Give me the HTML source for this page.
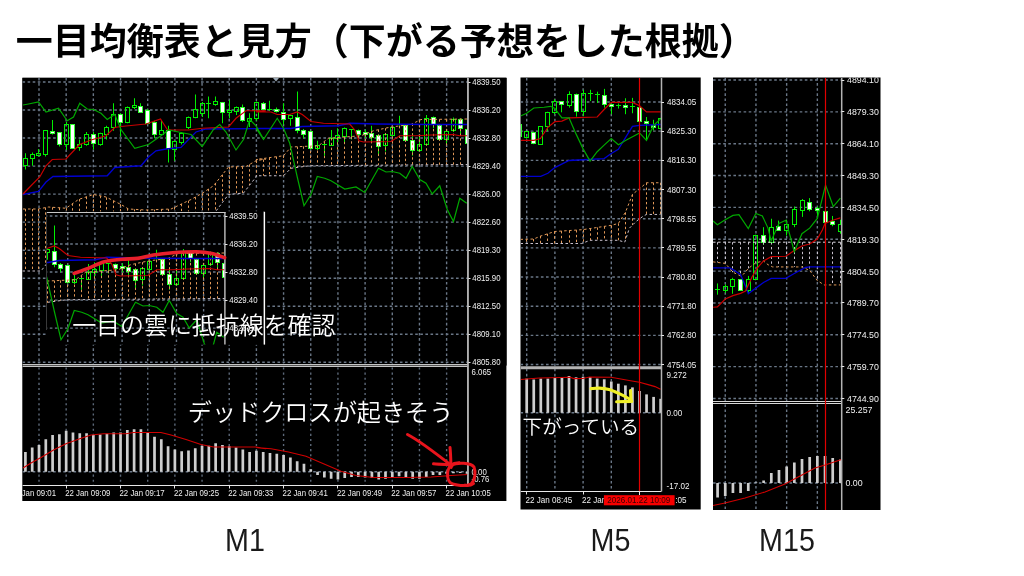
<!DOCTYPE html><html lang="ja"><head><meta charset="utf-8"><title>一目均衡表と見方</title>
<style>html,body{margin:0;padding:0;background:#fff}body{width:1024px;height:576px;overflow:hidden;position:relative}svg{position:absolute;left:0;top:0;display:block}.jp{font-family:"Liberation Sans","Noto Sans CJK JP",sans-serif}</style></head><body>
<svg width="1024" height="576" viewBox="0 0 1024 576">
<rect width="1024" height="576" fill="#fff"/>
<text x="15.7" y="55" fill="#000" font-family="Liberation Sans, Noto Sans CJK JP, sans-serif" font-weight="700" font-size="37">一目均衡表と見方（下がる予想をした根拠）</text>
<defs><clipPath id="cM1"><rect x="22.3" y="77.8" width="484.1" height="423.2"/></clipPath><clipPath id="cIn"><rect x="46.5" y="211.5" width="218" height="133"/></clipPath><clipPath id="cM5"><rect x="520.5" y="77.5" width="180.2" height="431.9"/></clipPath><clipPath id="cM5c"><rect x="520.5" y="77.5" width="140.8" height="432"/></clipPath><clipPath id="cM15"><rect x="713" y="77.5" width="167.5" height="432.5"/></clipPath><clipPath id="cM15c"><rect x="713" y="77.5" width="128.5" height="432.5"/></clipPath></defs>
<g clip-path="url(#cM1)"><g>
<rect x="12" y="67" width="505" height="445" fill="#000"/>
<rect x="22.5" y="77.5" width="484.5" height="288" fill="#000"/>
<line x1="39" y1="78" x2="39" y2="365" stroke="#6a7787" stroke-width="1.4" stroke-dasharray="2.6 2.5"/>
<line x1="66.17" y1="78" x2="66.17" y2="365" stroke="#6a7787" stroke-width="1.4" stroke-dasharray="2.6 2.5"/>
<line x1="93.35" y1="78" x2="93.35" y2="365" stroke="#6a7787" stroke-width="1.4" stroke-dasharray="2.6 2.5"/>
<line x1="120.53" y1="78" x2="120.53" y2="365" stroke="#6a7787" stroke-width="1.4" stroke-dasharray="2.6 2.5"/>
<line x1="147.7" y1="78" x2="147.7" y2="365" stroke="#6a7787" stroke-width="1.4" stroke-dasharray="2.6 2.5"/>
<line x1="174.88" y1="78" x2="174.88" y2="365" stroke="#6a7787" stroke-width="1.4" stroke-dasharray="2.6 2.5"/>
<line x1="202.05" y1="78" x2="202.05" y2="365" stroke="#6a7787" stroke-width="1.4" stroke-dasharray="2.6 2.5"/>
<line x1="229.22" y1="78" x2="229.22" y2="365" stroke="#6a7787" stroke-width="1.4" stroke-dasharray="2.6 2.5"/>
<line x1="256.4" y1="78" x2="256.4" y2="365" stroke="#6a7787" stroke-width="1.4" stroke-dasharray="2.6 2.5"/>
<line x1="283.58" y1="78" x2="283.58" y2="365" stroke="#6a7787" stroke-width="1.4" stroke-dasharray="2.6 2.5"/>
<line x1="310.75" y1="78" x2="310.75" y2="365" stroke="#6a7787" stroke-width="1.4" stroke-dasharray="2.6 2.5"/>
<line x1="337.93" y1="78" x2="337.93" y2="365" stroke="#6a7787" stroke-width="1.4" stroke-dasharray="2.6 2.5"/>
<line x1="365.1" y1="78" x2="365.1" y2="365" stroke="#6a7787" stroke-width="1.4" stroke-dasharray="2.6 2.5"/>
<line x1="392.28" y1="78" x2="392.28" y2="365" stroke="#6a7787" stroke-width="1.4" stroke-dasharray="2.6 2.5"/>
<line x1="419.45" y1="78" x2="419.45" y2="365" stroke="#6a7787" stroke-width="1.4" stroke-dasharray="2.6 2.5"/>
<line x1="446.62" y1="78" x2="446.62" y2="365" stroke="#6a7787" stroke-width="1.4" stroke-dasharray="2.6 2.5"/>
<line x1="22.5" y1="82" x2="468" y2="82" stroke="#6a7787" stroke-width="1.4" stroke-dasharray="2.6 2.5"/>
<line x1="22.5" y1="110.03" x2="468" y2="110.03" stroke="#6a7787" stroke-width="1.4" stroke-dasharray="2.6 2.5"/>
<line x1="22.5" y1="138.06" x2="468" y2="138.06" stroke="#6a7787" stroke-width="1.4" stroke-dasharray="2.6 2.5"/>
<line x1="22.5" y1="166.09" x2="468" y2="166.09" stroke="#6a7787" stroke-width="1.4" stroke-dasharray="2.6 2.5"/>
<line x1="22.5" y1="194.12" x2="468" y2="194.12" stroke="#6a7787" stroke-width="1.4" stroke-dasharray="2.6 2.5"/>
<line x1="22.5" y1="222.15" x2="468" y2="222.15" stroke="#6a7787" stroke-width="1.4" stroke-dasharray="2.6 2.5"/>
<line x1="22.5" y1="250.18" x2="468" y2="250.18" stroke="#6a7787" stroke-width="1.4" stroke-dasharray="2.6 2.5"/>
<line x1="22.5" y1="278.21" x2="468" y2="278.21" stroke="#6a7787" stroke-width="1.4" stroke-dasharray="2.6 2.5"/>
<line x1="22.5" y1="306.24" x2="468" y2="306.24" stroke="#6a7787" stroke-width="1.4" stroke-dasharray="2.6 2.5"/>
<line x1="22.5" y1="334.27" x2="468" y2="334.27" stroke="#6a7787" stroke-width="1.4" stroke-dasharray="2.6 2.5"/>
<line x1="22.5" y1="362.3" x2="468" y2="362.3" stroke="#6a7787" stroke-width="1.4" stroke-dasharray="2.6 2.5"/>
<line x1="25.5" y1="153.25" x2="25.5" y2="158.5" stroke="#00f000" stroke-width="1"/>
<line x1="25.5" y1="165.5" x2="25.5" y2="169.5" stroke="#00f000" stroke-width="1"/>
<rect x="23.5" y="158.5" width="4" height="7" fill="none" stroke="#00f000" stroke-width="1"/>
<line x1="32.5" y1="152.5" x2="32.5" y2="154.5" stroke="#00f000" stroke-width="1"/>
<line x1="32.5" y1="158.5" x2="32.5" y2="165.75" stroke="#00f000" stroke-width="1"/>
<rect x="30.5" y="154.5" width="4" height="4" fill="none" stroke="#00f000" stroke-width="1"/>
<line x1="38.5" y1="149" x2="38.5" y2="153.5" stroke="#00f000" stroke-width="1"/>
<line x1="38.5" y1="155.5" x2="38.5" y2="156.5" stroke="#00f000" stroke-width="1"/>
<rect x="36.5" y="153.5" width="4" height="2" fill="none" stroke="#00f000" stroke-width="1"/>
<line x1="45.5" y1="130" x2="45.5" y2="130.5" stroke="#00f000" stroke-width="1"/>
<line x1="45.5" y1="154.5" x2="45.5" y2="156.5" stroke="#00f000" stroke-width="1"/>
<rect x="43.5" y="130.5" width="4" height="24" fill="none" stroke="#00f000" stroke-width="1"/>
<line x1="52.5" y1="120" x2="52.5" y2="134.5" stroke="#00f000" stroke-width="1"/>
<rect x="50.5" y="131.5" width="4" height="2" fill="#ffffff" stroke="#30ff30" stroke-width="1"/>
<line x1="59.5" y1="132" x2="59.5" y2="146.5" stroke="#00f000" stroke-width="1"/>
<rect x="57.5" y="132.5" width="4" height="12" fill="#ffffff" stroke="#30ff30" stroke-width="1"/>
<line x1="66.5" y1="122" x2="66.5" y2="124.5" stroke="#00f000" stroke-width="1"/>
<line x1="66.5" y1="144.5" x2="66.5" y2="150" stroke="#00f000" stroke-width="1"/>
<rect x="64.5" y="124.5" width="4" height="20" fill="none" stroke="#00f000" stroke-width="1"/>
<line x1="72.5" y1="124" x2="72.5" y2="149" stroke="#00f000" stroke-width="1"/>
<rect x="70.5" y="124.5" width="4" height="24" fill="#ffffff" stroke="#30ff30" stroke-width="1"/>
<line x1="79.5" y1="139.5" x2="79.5" y2="144.5" stroke="#00f000" stroke-width="1"/>
<line x1="79.5" y1="147.5" x2="79.5" y2="150.75" stroke="#00f000" stroke-width="1"/>
<rect x="77.5" y="144.5" width="4" height="3" fill="none" stroke="#00f000" stroke-width="1"/>
<line x1="86.5" y1="132" x2="86.5" y2="134.5" stroke="#00f000" stroke-width="1"/>
<line x1="86.5" y1="144.5" x2="86.5" y2="145.75" stroke="#00f000" stroke-width="1"/>
<rect x="84.5" y="134.5" width="4" height="10" fill="none" stroke="#00f000" stroke-width="1"/>
<line x1="93.5" y1="132" x2="93.5" y2="149.5" stroke="#00f000" stroke-width="1"/>
<rect x="91.5" y="134.5" width="4" height="9" fill="#ffffff" stroke="#30ff30" stroke-width="1"/>
<line x1="100.5" y1="132.75" x2="100.5" y2="133.5" stroke="#00f000" stroke-width="1"/>
<line x1="100.5" y1="144.5" x2="100.5" y2="145.75" stroke="#00f000" stroke-width="1"/>
<rect x="98.5" y="133.5" width="4" height="11" fill="none" stroke="#00f000" stroke-width="1"/>
<line x1="106.5" y1="125.75" x2="106.5" y2="127.5" stroke="#00f000" stroke-width="1"/>
<line x1="106.5" y1="134.5" x2="106.5" y2="139.5" stroke="#00f000" stroke-width="1"/>
<rect x="104.5" y="127.5" width="4" height="7" fill="none" stroke="#00f000" stroke-width="1"/>
<line x1="113.5" y1="103.25" x2="113.5" y2="114.5" stroke="#00f000" stroke-width="1"/>
<line x1="113.5" y1="127.5" x2="113.5" y2="130.75" stroke="#00f000" stroke-width="1"/>
<rect x="111.5" y="114.5" width="4" height="13" fill="none" stroke="#00f000" stroke-width="1"/>
<line x1="120.5" y1="113.25" x2="120.5" y2="136.5" stroke="#00f000" stroke-width="1"/>
<rect x="118.5" y="114.5" width="4" height="8" fill="#ffffff" stroke="#30ff30" stroke-width="1"/>
<line x1="127.5" y1="106.5" x2="127.5" y2="107.5" stroke="#00f000" stroke-width="1"/>
<line x1="127.5" y1="122.5" x2="127.5" y2="123.25" stroke="#00f000" stroke-width="1"/>
<rect x="125.5" y="107.5" width="4" height="15" fill="none" stroke="#00f000" stroke-width="1"/>
<line x1="134.5" y1="98.25" x2="134.5" y2="105.5" stroke="#00f000" stroke-width="1"/>
<line x1="134.5" y1="107.5" x2="134.5" y2="109" stroke="#00f000" stroke-width="1"/>
<rect x="132.5" y="105.5" width="4" height="2" fill="none" stroke="#00f000" stroke-width="1"/>
<line x1="140.5" y1="103.25" x2="140.5" y2="112.5" stroke="#00f000" stroke-width="1"/>
<rect x="138.5" y="106.5" width="4" height="6" fill="#ffffff" stroke="#30ff30" stroke-width="1"/>
<line x1="147.5" y1="109" x2="147.5" y2="124.5" stroke="#00f000" stroke-width="1"/>
<rect x="145.5" y="110.5" width="4" height="13" fill="#ffffff" stroke="#30ff30" stroke-width="1"/>
<line x1="154.5" y1="120.75" x2="154.5" y2="138.25" stroke="#00f000" stroke-width="1"/>
<rect x="152.5" y="122.5" width="4" height="12" fill="#ffffff" stroke="#30ff30" stroke-width="1"/>
<line x1="161.5" y1="120.75" x2="161.5" y2="130.5" stroke="#00f000" stroke-width="1"/>
<line x1="161.5" y1="134.5" x2="161.5" y2="135.75" stroke="#00f000" stroke-width="1"/>
<rect x="159.5" y="130.5" width="4" height="4" fill="none" stroke="#00f000" stroke-width="1"/>
<line x1="168.5" y1="125.75" x2="168.5" y2="162.5" stroke="#00f000" stroke-width="1"/>
<rect x="166.5" y="130.5" width="4" height="18" fill="#ffffff" stroke="#30ff30" stroke-width="1"/>
<line x1="174.5" y1="140.75" x2="174.5" y2="141.5" stroke="#00f000" stroke-width="1"/>
<line x1="174.5" y1="149.5" x2="174.5" y2="160.75" stroke="#00f000" stroke-width="1"/>
<rect x="172.5" y="141.5" width="4" height="8" fill="none" stroke="#00f000" stroke-width="1"/>
<line x1="181.5" y1="132" x2="181.5" y2="133.5" stroke="#00f000" stroke-width="1"/>
<line x1="181.5" y1="142.5" x2="181.5" y2="144.5" stroke="#00f000" stroke-width="1"/>
<rect x="179.5" y="133.5" width="4" height="9" fill="none" stroke="#00f000" stroke-width="1"/>
<line x1="188.5" y1="116.5" x2="188.5" y2="117.5" stroke="#00f000" stroke-width="1"/>
<line x1="188.5" y1="127.5" x2="188.5" y2="129" stroke="#00f000" stroke-width="1"/>
<rect x="186.5" y="117.5" width="4" height="10" fill="none" stroke="#00f000" stroke-width="1"/>
<line x1="195.5" y1="94.5" x2="195.5" y2="109.5" stroke="#00f000" stroke-width="1"/>
<line x1="195.5" y1="117.5" x2="195.5" y2="118.25" stroke="#00f000" stroke-width="1"/>
<rect x="193.5" y="109.5" width="4" height="8" fill="none" stroke="#00f000" stroke-width="1"/>
<line x1="202.5" y1="102" x2="202.5" y2="103.5" stroke="#00f000" stroke-width="1"/>
<line x1="202.5" y1="113.5" x2="202.5" y2="117" stroke="#00f000" stroke-width="1"/>
<rect x="200.5" y="103.5" width="4" height="10" fill="none" stroke="#00f000" stroke-width="1"/>
<line x1="208.5" y1="96.5" x2="208.5" y2="118.25" stroke="#00f000" stroke-width="1"/>
<line x1="206" y1="103.5" x2="211" y2="103.5" stroke="#00f000" stroke-width="1"/>
<line x1="215.5" y1="96.5" x2="215.5" y2="101.5" stroke="#00f000" stroke-width="1"/>
<line x1="215.5" y1="104.5" x2="215.5" y2="105.75" stroke="#00f000" stroke-width="1"/>
<rect x="213.5" y="101.5" width="4" height="3" fill="none" stroke="#00f000" stroke-width="1"/>
<line x1="222.5" y1="102" x2="222.5" y2="123.25" stroke="#00f000" stroke-width="1"/>
<rect x="220.5" y="102.5" width="4" height="10" fill="#ffffff" stroke="#30ff30" stroke-width="1"/>
<line x1="229.5" y1="100" x2="229.5" y2="110.5" stroke="#00f000" stroke-width="1"/>
<line x1="229.5" y1="112.5" x2="229.5" y2="118.25" stroke="#00f000" stroke-width="1"/>
<rect x="227.5" y="110.5" width="4" height="2" fill="none" stroke="#00f000" stroke-width="1"/>
<line x1="236.5" y1="106.5" x2="236.5" y2="107.5" stroke="#00f000" stroke-width="1"/>
<line x1="236.5" y1="111.5" x2="236.5" y2="115" stroke="#00f000" stroke-width="1"/>
<rect x="234.5" y="107.5" width="4" height="4" fill="none" stroke="#00f000" stroke-width="1"/>
<line x1="242.5" y1="104.5" x2="242.5" y2="122" stroke="#00f000" stroke-width="1"/>
<rect x="240.5" y="107.5" width="4" height="13" fill="#ffffff" stroke="#30ff30" stroke-width="1"/>
<line x1="249.5" y1="113.25" x2="249.5" y2="118.5" stroke="#00f000" stroke-width="1"/>
<line x1="249.5" y1="121.5" x2="249.5" y2="127" stroke="#00f000" stroke-width="1"/>
<rect x="247.5" y="118.5" width="4" height="3" fill="none" stroke="#00f000" stroke-width="1"/>
<line x1="256.5" y1="101.5" x2="256.5" y2="102.5" stroke="#00f000" stroke-width="1"/>
<line x1="256.5" y1="118.5" x2="256.5" y2="120.75" stroke="#00f000" stroke-width="1"/>
<rect x="254.5" y="102.5" width="4" height="16" fill="none" stroke="#00f000" stroke-width="1"/>
<line x1="263.5" y1="102" x2="263.5" y2="110" stroke="#00f000" stroke-width="1"/>
<rect x="261.5" y="103.5" width="4" height="6" fill="#ffffff" stroke="#30ff30" stroke-width="1"/>
<line x1="269.5" y1="100.75" x2="269.5" y2="110.75" stroke="#00f000" stroke-width="1"/>
<line x1="267" y1="109.5" x2="272" y2="109.5" stroke="#00f000" stroke-width="1"/>
<line x1="276.5" y1="107.5" x2="276.5" y2="112.5" stroke="#00f000" stroke-width="1"/>
<rect x="274.5" y="109.5" width="4" height="2" fill="#ffffff" stroke="#30ff30" stroke-width="1"/>
<line x1="283.5" y1="103.25" x2="283.5" y2="124.5" stroke="#00f000" stroke-width="1"/>
<rect x="281.5" y="112.5" width="4" height="7" fill="#ffffff" stroke="#30ff30" stroke-width="1"/>
<line x1="290.5" y1="114.5" x2="290.5" y2="115.5" stroke="#00f000" stroke-width="1"/>
<line x1="290.5" y1="118.5" x2="290.5" y2="125.75" stroke="#00f000" stroke-width="1"/>
<rect x="288.5" y="115.5" width="4" height="3" fill="none" stroke="#00f000" stroke-width="1"/>
<line x1="297.5" y1="91.5" x2="297.5" y2="133.25" stroke="#00f000" stroke-width="1"/>
<rect x="295.5" y="117.5" width="4" height="13" fill="#ffffff" stroke="#30ff30" stroke-width="1"/>
<line x1="303.5" y1="129" x2="303.5" y2="138.25" stroke="#00f000" stroke-width="1"/>
<rect x="301.5" y="130.5" width="4" height="4" fill="#ffffff" stroke="#30ff30" stroke-width="1"/>
<line x1="310.5" y1="130.75" x2="310.5" y2="149.5" stroke="#00f000" stroke-width="1"/>
<rect x="308.5" y="131.5" width="4" height="17" fill="#ffffff" stroke="#30ff30" stroke-width="1"/>
<line x1="317.5" y1="140.75" x2="317.5" y2="145.5" stroke="#00f000" stroke-width="1"/>
<line x1="317.5" y1="148.5" x2="317.5" y2="150" stroke="#00f000" stroke-width="1"/>
<rect x="315.5" y="145.5" width="4" height="3" fill="none" stroke="#00f000" stroke-width="1"/>
<line x1="324.5" y1="143.25" x2="324.5" y2="155.75" stroke="#00f000" stroke-width="1"/>
<line x1="322" y1="144.5" x2="327" y2="144.5" stroke="#00f000" stroke-width="1"/>
<line x1="331.5" y1="130" x2="331.5" y2="138.5" stroke="#00f000" stroke-width="1"/>
<line x1="331.5" y1="145.5" x2="331.5" y2="145.75" stroke="#00f000" stroke-width="1"/>
<rect x="329.5" y="138.5" width="4" height="7" fill="none" stroke="#00f000" stroke-width="1"/>
<line x1="337.5" y1="128.25" x2="337.5" y2="135.5" stroke="#00f000" stroke-width="1"/>
<line x1="337.5" y1="138.5" x2="337.5" y2="144.5" stroke="#00f000" stroke-width="1"/>
<rect x="335.5" y="135.5" width="4" height="3" fill="none" stroke="#00f000" stroke-width="1"/>
<line x1="344.5" y1="127.5" x2="344.5" y2="128.5" stroke="#00f000" stroke-width="1"/>
<line x1="344.5" y1="136.5" x2="344.5" y2="142.5" stroke="#00f000" stroke-width="1"/>
<rect x="342.5" y="128.5" width="4" height="8" fill="none" stroke="#00f000" stroke-width="1"/>
<line x1="351.5" y1="129" x2="351.5" y2="139.5" stroke="#00f000" stroke-width="1"/>
<line x1="349" y1="129.5" x2="354" y2="129.5" stroke="#00f000" stroke-width="1"/>
<line x1="358.5" y1="129.5" x2="358.5" y2="138.25" stroke="#00f000" stroke-width="1"/>
<rect x="356.5" y="130.5" width="4" height="4" fill="#ffffff" stroke="#30ff30" stroke-width="1"/>
<line x1="365.5" y1="129.5" x2="365.5" y2="138.25" stroke="#00f000" stroke-width="1"/>
<rect x="363.5" y="132.5" width="4" height="2" fill="#ffffff" stroke="#30ff30" stroke-width="1"/>
<line x1="371.5" y1="125.75" x2="371.5" y2="142" stroke="#00f000" stroke-width="1"/>
<rect x="369.5" y="133.5" width="4" height="4" fill="#ffffff" stroke="#30ff30" stroke-width="1"/>
<line x1="378.5" y1="134.5" x2="378.5" y2="154.5" stroke="#00f000" stroke-width="1"/>
<rect x="376.5" y="135.5" width="4" height="11" fill="#ffffff" stroke="#30ff30" stroke-width="1"/>
<line x1="385.5" y1="133.25" x2="385.5" y2="134.5" stroke="#00f000" stroke-width="1"/>
<line x1="385.5" y1="145.5" x2="385.5" y2="151.5" stroke="#00f000" stroke-width="1"/>
<rect x="383.5" y="134.5" width="4" height="11" fill="none" stroke="#00f000" stroke-width="1"/>
<line x1="392.5" y1="127" x2="392.5" y2="127.5" stroke="#00f000" stroke-width="1"/>
<line x1="392.5" y1="135.5" x2="392.5" y2="136.5" stroke="#00f000" stroke-width="1"/>
<rect x="390.5" y="127.5" width="4" height="8" fill="none" stroke="#00f000" stroke-width="1"/>
<line x1="399.5" y1="115.75" x2="399.5" y2="125.75" stroke="#00f000" stroke-width="1"/>
<line x1="397" y1="124.5" x2="402" y2="124.5" stroke="#00f000" stroke-width="1"/>
<line x1="405.5" y1="124.5" x2="405.5" y2="140.75" stroke="#00f000" stroke-width="1"/>
<rect x="403.5" y="125.5" width="4" height="15" fill="#ffffff" stroke="#30ff30" stroke-width="1"/>
<line x1="412.5" y1="133.25" x2="412.5" y2="155.75" stroke="#00f000" stroke-width="1"/>
<rect x="410.5" y="140.5" width="4" height="10" fill="#ffffff" stroke="#30ff30" stroke-width="1"/>
<line x1="419.5" y1="137" x2="419.5" y2="144.5" stroke="#00f000" stroke-width="1"/>
<line x1="419.5" y1="150.5" x2="419.5" y2="152" stroke="#00f000" stroke-width="1"/>
<rect x="417.5" y="144.5" width="4" height="6" fill="none" stroke="#00f000" stroke-width="1"/>
<line x1="426.5" y1="115" x2="426.5" y2="118.5" stroke="#00f000" stroke-width="1"/>
<line x1="426.5" y1="144.5" x2="426.5" y2="145" stroke="#00f000" stroke-width="1"/>
<rect x="424.5" y="118.5" width="4" height="26" fill="none" stroke="#00f000" stroke-width="1"/>
<line x1="433.5" y1="116.5" x2="433.5" y2="128.25" stroke="#00f000" stroke-width="1"/>
<rect x="431.5" y="117.5" width="4" height="7" fill="#ffffff" stroke="#30ff30" stroke-width="1"/>
<line x1="439.5" y1="124.5" x2="439.5" y2="140.75" stroke="#00f000" stroke-width="1"/>
<rect x="437.5" y="125.5" width="4" height="14" fill="#ffffff" stroke="#30ff30" stroke-width="1"/>
<line x1="446.5" y1="130" x2="446.5" y2="131.5" stroke="#00f000" stroke-width="1"/>
<line x1="446.5" y1="139.5" x2="446.5" y2="145" stroke="#00f000" stroke-width="1"/>
<rect x="444.5" y="131.5" width="4" height="8" fill="none" stroke="#00f000" stroke-width="1"/>
<line x1="453.5" y1="117.5" x2="453.5" y2="119.5" stroke="#00f000" stroke-width="1"/>
<line x1="453.5" y1="130.5" x2="453.5" y2="132" stroke="#00f000" stroke-width="1"/>
<rect x="451.5" y="119.5" width="4" height="11" fill="none" stroke="#00f000" stroke-width="1"/>
<line x1="460.5" y1="118.25" x2="460.5" y2="134" stroke="#00f000" stroke-width="1"/>
<rect x="458.5" y="119.5" width="4" height="9" fill="#ffffff" stroke="#30ff30" stroke-width="1"/>
<line x1="467.5" y1="128.25" x2="467.5" y2="144" stroke="#00f000" stroke-width="1"/>
<rect x="465.5" y="129.5" width="4" height="14" fill="#ffffff" stroke="#30ff30" stroke-width="1"/>
<line x1="25.5" y1="209" x2="25.5" y2="271" stroke="#e09858" stroke-width="1" stroke-dasharray="2.4 2.4"/>
<line x1="32.5" y1="209" x2="32.5" y2="271" stroke="#e09858" stroke-width="1" stroke-dasharray="2.4 2.4"/>
<line x1="38.5" y1="208.9" x2="38.5" y2="271" stroke="#e09858" stroke-width="1" stroke-dasharray="2.4 2.4"/>
<line x1="45.5" y1="207.54" x2="45.5" y2="264.9" stroke="#e09858" stroke-width="1" stroke-dasharray="2.4 2.4"/>
<line x1="52.5" y1="207.29" x2="52.5" y2="263.1" stroke="#e09858" stroke-width="1" stroke-dasharray="2.4 2.4"/>
<line x1="59.5" y1="207.78" x2="59.5" y2="262.09" stroke="#e09858" stroke-width="1" stroke-dasharray="2.4 2.4"/>
<line x1="66.5" y1="208.13" x2="66.5" y2="262" stroke="#e09858" stroke-width="1" stroke-dasharray="2.4 2.4"/>
<line x1="72.5" y1="203.37" x2="72.5" y2="262" stroke="#e09858" stroke-width="1" stroke-dasharray="2.4 2.4"/>
<line x1="79.5" y1="199.08" x2="79.5" y2="262" stroke="#e09858" stroke-width="1" stroke-dasharray="2.4 2.4"/>
<line x1="86.5" y1="196.81" x2="86.5" y2="262" stroke="#e09858" stroke-width="1" stroke-dasharray="2.4 2.4"/>
<line x1="93.5" y1="194.55" x2="93.5" y2="262" stroke="#e09858" stroke-width="1" stroke-dasharray="2.4 2.4"/>
<line x1="100.5" y1="195.83" x2="100.5" y2="262" stroke="#e09858" stroke-width="1" stroke-dasharray="2.4 2.4"/>
<line x1="106.5" y1="197.47" x2="106.5" y2="262" stroke="#e09858" stroke-width="1" stroke-dasharray="2.4 2.4"/>
<line x1="113.5" y1="200.87" x2="113.5" y2="262" stroke="#e09858" stroke-width="1" stroke-dasharray="2.4 2.4"/>
<line x1="120.5" y1="204.26" x2="120.5" y2="261.68" stroke="#e09858" stroke-width="1" stroke-dasharray="2.4 2.4"/>
<line x1="127.5" y1="208.29" x2="127.5" y2="257.61" stroke="#e09858" stroke-width="1" stroke-dasharray="2.4 2.4"/>
<line x1="134.5" y1="209.32" x2="134.5" y2="253.53" stroke="#e09858" stroke-width="1" stroke-dasharray="2.4 2.4"/>
<line x1="140.5" y1="209.71" x2="140.5" y2="249.96" stroke="#e09858" stroke-width="1" stroke-dasharray="2.4 2.4"/>
<line x1="147.5" y1="209.93" x2="147.5" y2="249.69" stroke="#e09858" stroke-width="1" stroke-dasharray="2.4 2.4"/>
<line x1="154.5" y1="209.66" x2="154.5" y2="249.42" stroke="#e09858" stroke-width="1" stroke-dasharray="2.4 2.4"/>
<line x1="161.5" y1="209.39" x2="161.5" y2="249.15" stroke="#e09858" stroke-width="1" stroke-dasharray="2.4 2.4"/>
<line x1="168.5" y1="209.12" x2="168.5" y2="248.88" stroke="#e09858" stroke-width="1" stroke-dasharray="2.4 2.4"/>
<line x1="174.5" y1="207.16" x2="174.5" y2="248.6" stroke="#e09858" stroke-width="1" stroke-dasharray="2.4 2.4"/>
<line x1="181.5" y1="203.93" x2="181.5" y2="248.33" stroke="#e09858" stroke-width="1" stroke-dasharray="2.4 2.4"/>
<line x1="188.5" y1="200.7" x2="188.5" y2="248.06" stroke="#e09858" stroke-width="1" stroke-dasharray="2.4 2.4"/>
<line x1="195.5" y1="197.13" x2="195.5" y2="239.93" stroke="#e09858" stroke-width="1" stroke-dasharray="2.4 2.4"/>
<line x1="202.5" y1="193.36" x2="202.5" y2="229.52" stroke="#e09858" stroke-width="1" stroke-dasharray="2.4 2.4"/>
<line x1="208.5" y1="188.85" x2="208.5" y2="220.1" stroke="#e09858" stroke-width="1" stroke-dasharray="2.4 2.4"/>
<line x1="215.5" y1="183.07" x2="215.5" y2="211.46" stroke="#e09858" stroke-width="1" stroke-dasharray="2.4 2.4"/>
<line x1="222.5" y1="174.58" x2="222.5" y2="202.5" stroke="#e09858" stroke-width="1" stroke-dasharray="2.4 2.4"/>
<line x1="229.5" y1="166.98" x2="229.5" y2="194.43" stroke="#e09858" stroke-width="1" stroke-dasharray="2.4 2.4"/>
<line x1="236.5" y1="166.79" x2="236.5" y2="193.75" stroke="#e09858" stroke-width="1" stroke-dasharray="2.4 2.4"/>
<line x1="242.5" y1="166.59" x2="242.5" y2="193.07" stroke="#e09858" stroke-width="1" stroke-dasharray="2.4 2.4"/>
<line x1="249.5" y1="164.42" x2="249.5" y2="185.18" stroke="#e09858" stroke-width="1" stroke-dasharray="2.4 2.4"/>
<line x1="256.5" y1="160.68" x2="256.5" y2="175.75" stroke="#e09858" stroke-width="1" stroke-dasharray="2.4 2.4"/>
<line x1="263.5" y1="159.49" x2="263.5" y2="175.75" stroke="#e09858" stroke-width="1" stroke-dasharray="2.4 2.4"/>
<line x1="269.5" y1="157.59" x2="269.5" y2="175.75" stroke="#e09858" stroke-width="1" stroke-dasharray="2.4 2.4"/>
<line x1="276.5" y1="156.67" x2="276.5" y2="175.75" stroke="#e09858" stroke-width="1" stroke-dasharray="2.4 2.4"/>
<line x1="283.5" y1="155.65" x2="283.5" y2="175.67" stroke="#e09858" stroke-width="1" stroke-dasharray="2.4 2.4"/>
<line x1="290.5" y1="147.73" x2="290.5" y2="168.87" stroke="#e09858" stroke-width="1" stroke-dasharray="2.4 2.4"/>
<line x1="297.5" y1="146.72" x2="297.5" y2="167.43" stroke="#e09858" stroke-width="1" stroke-dasharray="2.4 2.4"/>
<line x1="303.5" y1="146.41" x2="303.5" y2="166.52" stroke="#e09858" stroke-width="1" stroke-dasharray="2.4 2.4"/>
<line x1="310.5" y1="146.1" x2="310.5" y2="165.74" stroke="#e09858" stroke-width="1" stroke-dasharray="2.4 2.4"/>
<line x1="317.5" y1="145.79" x2="317.5" y2="165.69" stroke="#e09858" stroke-width="1" stroke-dasharray="2.4 2.4"/>
<line x1="324.5" y1="141.37" x2="324.5" y2="165.63" stroke="#e09858" stroke-width="1" stroke-dasharray="2.4 2.4"/>
<line x1="331.5" y1="138.05" x2="331.5" y2="165.58" stroke="#e09858" stroke-width="1" stroke-dasharray="2.4 2.4"/>
<line x1="337.5" y1="137.52" x2="337.5" y2="165.53" stroke="#e09858" stroke-width="1" stroke-dasharray="2.4 2.4"/>
<line x1="344.5" y1="137" x2="344.5" y2="165.47" stroke="#e09858" stroke-width="1" stroke-dasharray="2.4 2.4"/>
<line x1="351.5" y1="136.48" x2="351.5" y2="165.42" stroke="#e09858" stroke-width="1" stroke-dasharray="2.4 2.4"/>
<line x1="358.5" y1="135.96" x2="358.5" y2="165.37" stroke="#e09858" stroke-width="1" stroke-dasharray="2.4 2.4"/>
<line x1="365.5" y1="134.11" x2="365.5" y2="165.31" stroke="#e09858" stroke-width="1" stroke-dasharray="2.4 2.4"/>
<line x1="371.5" y1="131.39" x2="371.5" y2="165.26" stroke="#e09858" stroke-width="1" stroke-dasharray="2.4 2.4"/>
<line x1="378.5" y1="129.64" x2="378.5" y2="165.21" stroke="#e09858" stroke-width="1" stroke-dasharray="2.4 2.4"/>
<line x1="385.5" y1="128.18" x2="385.5" y2="165.15" stroke="#e09858" stroke-width="1" stroke-dasharray="2.4 2.4"/>
<line x1="392.5" y1="126.84" x2="392.5" y2="165.1" stroke="#e09858" stroke-width="1" stroke-dasharray="2.4 2.4"/>
<line x1="399.5" y1="125.99" x2="399.5" y2="165.04" stroke="#e09858" stroke-width="1" stroke-dasharray="2.4 2.4"/>
<line x1="405.5" y1="125.14" x2="405.5" y2="164.99" stroke="#e09858" stroke-width="1" stroke-dasharray="2.4 2.4"/>
<line x1="412.5" y1="123.67" x2="412.5" y2="164.94" stroke="#e09858" stroke-width="1" stroke-dasharray="2.4 2.4"/>
<line x1="419.5" y1="120.27" x2="419.5" y2="164.88" stroke="#e09858" stroke-width="1" stroke-dasharray="2.4 2.4"/>
<line x1="426.5" y1="119.44" x2="426.5" y2="164.83" stroke="#e09858" stroke-width="1" stroke-dasharray="2.4 2.4"/>
<line x1="433.5" y1="119.37" x2="433.5" y2="164.78" stroke="#e09858" stroke-width="1" stroke-dasharray="2.4 2.4"/>
<line x1="439.5" y1="119.3" x2="439.5" y2="164.72" stroke="#e09858" stroke-width="1" stroke-dasharray="2.4 2.4"/>
<line x1="446.5" y1="119.23" x2="446.5" y2="164.67" stroke="#e09858" stroke-width="1" stroke-dasharray="2.4 2.4"/>
<line x1="453.5" y1="119.15" x2="453.5" y2="164.62" stroke="#e09858" stroke-width="1" stroke-dasharray="2.4 2.4"/>
<line x1="460.5" y1="119.08" x2="460.5" y2="164.56" stroke="#e09858" stroke-width="1" stroke-dasharray="2.4 2.4"/>
<polyline points="22.5,271 41,271 46.5,264 60,262 120,262 140,250 190,248 205,225 216,211 228.5,194.5 243.5,193 256,177 256,175.75 283.5,175.75 291,168.25 309.75,165.75 468,164.5" fill="none" stroke="#c8c0cc" stroke-width="1" stroke-dasharray="2.5 2.5" />
<polyline points="23,209 38.5,209 48.5,207 66,208.25 78.5,199.5 93.5,194.5 106,197 121,204.5 128.5,209 146,210 171,209 191,199.5 202.25,193.25 213.5,185.75 223.5,173.25 228.5,167 246,166.5 256,160.75 266,159 256,159.5 283.5,155.75 291,147 318.5,145.75 328.5,138.25 361,135.75 373.5,130.75 391,127 411,124.5 421,119.5 468,119" fill="none" stroke="#e09858" stroke-width="1" stroke-dasharray="2.5 2.5" />
<polyline points="23,194.5 38.5,191.5 46,182 53,176.5 107.25,175.75 114.75,167.5 141,165.75 148.5,157 156,150.75 166,149 181,147.5 188.5,139.5 196,132 206,129 266,128.5 256,128.5 291,128.5 302.25,126.5 338.5,125.75 349.75,123.25 376,124 431,124.5 468,124.5" fill="none" stroke="#0000d0" stroke-width="1.3" />
<polyline points="23,194 31,185.75 39.75,177 46,165.75 52.25,159.5 66,159 76,148.25 79.75,144.5 91,140 106,135.75 114.75,127.5 121,126.5 146,124 160.5,119 167.25,129.5 172.25,130 188.5,130 202.25,128.25 228.5,127 236,118.25 246,110.75 266,110.75 256,112 271,112 277.25,114.5 289.75,114.5 297.25,112 302.25,114.5 311,121.5 323.5,123.25 349.75,124 354.75,130 359,140.75 363.5,142 391,141.5 399.75,135.75 416,135.75 431,135 453.5,134.5 459.75,135.75 468,135.75" fill="none" stroke="#c80000" stroke-width="1.2" />
<polyline points="23,105 28.5,104 38.5,102 46,112 58.5,108.25 67.25,120.75 73.5,117 79.75,103.25 87.25,109 93.5,109.5 101,113.25 107.25,119.5 114.75,114.5 121,129.5 134.75,148.25 148.5,144.5 161,135.75 168.5,130 178.5,132 191,134.5 202.25,146.5 213.5,129.5 219.75,124.5 226,132 236,150 243.5,139.5 249.75,119.5 256,125.75 263.5,139 256,128.25 263.5,139.5 277.25,118.25 283.5,128.25 289.75,143.25 297.25,177 304,205.75 311,194.5 317.25,176.5 324.75,178.25 331,180.75 344.75,189 356,187 364.75,192.5 378.5,168.25 386,172 392.25,171.5 399.75,173.25 406,178.25 412.25,166.5 419.75,179.5 426,183.25 432.25,194 439.75,185.75 447.25,209.5 453.5,221.5 459.75,198.25 466.75,203.25" fill="none" stroke="#00a800" stroke-width="1.2" />
<rect x="468" y="77.5" width="39" height="288" fill="#000"/>
<line x1="467.9" y1="78" x2="467.9" y2="486" stroke="#b4b4b4" stroke-width="1.5"/>
<line x1="468" y1="82.5" x2="470.5" y2="82.5" stroke="#e8e8e8" stroke-width="1"/>
<text transform="translate(472.3,85.02) scale(0.93,1)" fill="#f0f0f0" font-family="Liberation Sans, sans-serif" font-size="8.4">4839.50</text>
<line x1="468" y1="110.5" x2="470.5" y2="110.5" stroke="#e8e8e8" stroke-width="1"/>
<text transform="translate(472.3,113.05) scale(0.93,1)" fill="#f0f0f0" font-family="Liberation Sans, sans-serif" font-size="8.4">4836.20</text>
<line x1="468" y1="138.5" x2="470.5" y2="138.5" stroke="#e8e8e8" stroke-width="1"/>
<text transform="translate(472.3,141.08) scale(0.93,1)" fill="#f0f0f0" font-family="Liberation Sans, sans-serif" font-size="8.4">4832.80</text>
<line x1="468" y1="166.5" x2="470.5" y2="166.5" stroke="#e8e8e8" stroke-width="1"/>
<text transform="translate(472.3,169.11) scale(0.93,1)" fill="#f0f0f0" font-family="Liberation Sans, sans-serif" font-size="8.4">4829.40</text>
<line x1="468" y1="194.5" x2="470.5" y2="194.5" stroke="#e8e8e8" stroke-width="1"/>
<text transform="translate(472.3,197.14) scale(0.93,1)" fill="#f0f0f0" font-family="Liberation Sans, sans-serif" font-size="8.4">4826.00</text>
<line x1="468" y1="222.5" x2="470.5" y2="222.5" stroke="#e8e8e8" stroke-width="1"/>
<text transform="translate(472.3,225.17) scale(0.93,1)" fill="#f0f0f0" font-family="Liberation Sans, sans-serif" font-size="8.4">4822.60</text>
<line x1="468" y1="250.5" x2="470.5" y2="250.5" stroke="#e8e8e8" stroke-width="1"/>
<text transform="translate(472.3,253.2) scale(0.93,1)" fill="#f0f0f0" font-family="Liberation Sans, sans-serif" font-size="8.4">4819.30</text>
<line x1="468" y1="278.5" x2="470.5" y2="278.5" stroke="#e8e8e8" stroke-width="1"/>
<text transform="translate(472.3,281.23) scale(0.93,1)" fill="#f0f0f0" font-family="Liberation Sans, sans-serif" font-size="8.4">4815.90</text>
<line x1="468" y1="306.5" x2="470.5" y2="306.5" stroke="#e8e8e8" stroke-width="1"/>
<text transform="translate(472.3,309.26) scale(0.93,1)" fill="#f0f0f0" font-family="Liberation Sans, sans-serif" font-size="8.4">4812.50</text>
<line x1="468" y1="334.5" x2="470.5" y2="334.5" stroke="#e8e8e8" stroke-width="1"/>
<text transform="translate(472.3,337.29) scale(0.93,1)" fill="#f0f0f0" font-family="Liberation Sans, sans-serif" font-size="8.4">4809.10</text>
<line x1="468" y1="362.5" x2="470.5" y2="362.5" stroke="#e8e8e8" stroke-width="1"/>
<text transform="translate(472.3,365.32) scale(0.93,1)" fill="#f0f0f0" font-family="Liberation Sans, sans-serif" font-size="8.4">4805.80</text>
<polygon points="273,78 279,78 276,81.5" fill="#9aa8b4"/>
<line x1="39" y1="367.5" x2="39" y2="485" stroke="#5c6878" stroke-width="1.4" stroke-dasharray="2.1 3"/>
<line x1="66.17" y1="367.5" x2="66.17" y2="485" stroke="#5c6878" stroke-width="1.4" stroke-dasharray="2.1 3"/>
<line x1="93.35" y1="367.5" x2="93.35" y2="485" stroke="#5c6878" stroke-width="1.4" stroke-dasharray="2.1 3"/>
<line x1="120.53" y1="367.5" x2="120.53" y2="485" stroke="#5c6878" stroke-width="1.4" stroke-dasharray="2.1 3"/>
<line x1="147.7" y1="367.5" x2="147.7" y2="485" stroke="#5c6878" stroke-width="1.4" stroke-dasharray="2.1 3"/>
<line x1="174.88" y1="367.5" x2="174.88" y2="485" stroke="#5c6878" stroke-width="1.4" stroke-dasharray="2.1 3"/>
<line x1="202.05" y1="367.5" x2="202.05" y2="485" stroke="#5c6878" stroke-width="1.4" stroke-dasharray="2.1 3"/>
<line x1="229.22" y1="367.5" x2="229.22" y2="485" stroke="#5c6878" stroke-width="1.4" stroke-dasharray="2.1 3"/>
<line x1="256.4" y1="367.5" x2="256.4" y2="485" stroke="#5c6878" stroke-width="1.4" stroke-dasharray="2.1 3"/>
<line x1="283.58" y1="367.5" x2="283.58" y2="485" stroke="#5c6878" stroke-width="1.4" stroke-dasharray="2.1 3"/>
<line x1="310.75" y1="367.5" x2="310.75" y2="485" stroke="#5c6878" stroke-width="1.4" stroke-dasharray="2.1 3"/>
<line x1="337.93" y1="367.5" x2="337.93" y2="485" stroke="#5c6878" stroke-width="1.4" stroke-dasharray="2.1 3"/>
<line x1="365.1" y1="367.5" x2="365.1" y2="485" stroke="#5c6878" stroke-width="1.4" stroke-dasharray="2.1 3"/>
<line x1="392.28" y1="367.5" x2="392.28" y2="485" stroke="#5c6878" stroke-width="1.4" stroke-dasharray="2.1 3"/>
<line x1="419.45" y1="367.5" x2="419.45" y2="485" stroke="#5c6878" stroke-width="1.4" stroke-dasharray="2.1 3"/>
<line x1="446.62" y1="367.5" x2="446.62" y2="485" stroke="#5c6878" stroke-width="1.4" stroke-dasharray="2.1 3"/>
<line x1="22.5" y1="471.75" x2="468" y2="471.75" stroke="#6a7787" stroke-width="1.4" stroke-dasharray="2.6 2.5"/>
<rect x="24.06" y="452" width="2.7" height="19.75" fill="#cecece"/>
<rect x="30.85" y="447.5" width="2.7" height="24.25" fill="#cecece"/>
<rect x="37.65" y="445" width="2.7" height="26.75" fill="#cecece"/>
<rect x="44.44" y="439.25" width="2.7" height="32.5" fill="#cecece"/>
<rect x="51.24" y="435" width="2.7" height="36.75" fill="#cecece"/>
<rect x="58.03" y="434.25" width="2.7" height="37.5" fill="#cecece"/>
<rect x="64.82" y="430.75" width="2.7" height="41" fill="#cecece"/>
<rect x="71.62" y="432.5" width="2.7" height="39.25" fill="#cecece"/>
<rect x="78.41" y="433.25" width="2.7" height="38.5" fill="#cecece"/>
<rect x="85.21" y="433.25" width="2.7" height="38.5" fill="#cecece"/>
<rect x="92" y="435" width="2.7" height="36.75" fill="#cecece"/>
<rect x="98.79" y="434.5" width="2.7" height="37.25" fill="#cecece"/>
<rect x="105.59" y="433.75" width="2.7" height="38" fill="#cecece"/>
<rect x="112.38" y="432.5" width="2.7" height="39.25" fill="#cecece"/>
<rect x="119.18" y="432.5" width="2.7" height="39.25" fill="#cecece"/>
<rect x="125.97" y="430" width="2.7" height="41.75" fill="#cecece"/>
<rect x="132.76" y="429.25" width="2.7" height="42.5" fill="#cecece"/>
<rect x="139.56" y="429.25" width="2.7" height="42.5" fill="#cecece"/>
<rect x="146.35" y="432.5" width="2.7" height="39.25" fill="#cecece"/>
<rect x="153.15" y="436.75" width="2.7" height="35" fill="#cecece"/>
<rect x="159.94" y="439.25" width="2.7" height="32.5" fill="#cecece"/>
<rect x="166.73" y="446.25" width="2.7" height="25.5" fill="#cecece"/>
<rect x="173.53" y="449.5" width="2.7" height="22.25" fill="#cecece"/>
<rect x="180.32" y="451.25" width="2.7" height="20.5" fill="#cecece"/>
<rect x="187.12" y="450.5" width="2.7" height="21.25" fill="#cecece"/>
<rect x="193.91" y="448.25" width="2.7" height="23.5" fill="#cecece"/>
<rect x="200.7" y="445.75" width="2.7" height="26" fill="#cecece"/>
<rect x="207.5" y="445.75" width="2.7" height="26" fill="#cecece"/>
<rect x="214.29" y="443.25" width="2.7" height="28.5" fill="#cecece"/>
<rect x="221.09" y="445" width="2.7" height="26.75" fill="#cecece"/>
<rect x="227.88" y="446.25" width="2.7" height="25.5" fill="#cecece"/>
<rect x="234.67" y="447.5" width="2.7" height="24.25" fill="#cecece"/>
<rect x="241.47" y="449.5" width="2.7" height="22.25" fill="#cecece"/>
<rect x="248.26" y="452" width="2.7" height="19.75" fill="#cecece"/>
<rect x="255.06" y="450.75" width="2.7" height="21" fill="#cecece"/>
<rect x="261.85" y="452" width="2.7" height="19.75" fill="#cecece"/>
<rect x="268.64" y="453" width="2.7" height="18.75" fill="#cecece"/>
<rect x="275.44" y="453.75" width="2.7" height="18" fill="#cecece"/>
<rect x="282.23" y="455" width="2.7" height="16.75" fill="#cecece"/>
<rect x="289.03" y="457.5" width="2.7" height="14.25" fill="#cecece"/>
<rect x="295.82" y="461.25" width="2.7" height="10.5" fill="#cecece"/>
<rect x="302.61" y="463.75" width="2.7" height="8" fill="#cecece"/>
<rect x="309.41" y="469.25" width="2.7" height="2.5" fill="#cecece"/>
<rect x="316.2" y="471.75" width="2.7" height="3.25" fill="#cecece"/>
<rect x="323" y="471.75" width="2.7" height="5.75" fill="#cecece"/>
<rect x="329.79" y="471.75" width="2.7" height="7" fill="#cecece"/>
<rect x="336.58" y="471.75" width="2.7" height="7.75" fill="#cecece"/>
<rect x="343.38" y="471.75" width="2.7" height="6.25" fill="#cecece"/>
<rect x="350.17" y="471.75" width="2.7" height="5.25" fill="#cecece"/>
<rect x="356.97" y="471.75" width="2.7" height="5.25" fill="#cecece"/>
<rect x="363.76" y="471.75" width="2.7" height="5.75" fill="#cecece"/>
<rect x="370.55" y="471.75" width="2.7" height="6.25" fill="#cecece"/>
<rect x="377.35" y="471.75" width="2.7" height="7.75" fill="#cecece"/>
<rect x="384.14" y="471.75" width="2.7" height="7" fill="#cecece"/>
<rect x="390.94" y="471.75" width="2.7" height="5.75" fill="#cecece"/>
<rect x="397.73" y="471.75" width="2.7" height="4.5" fill="#cecece"/>
<rect x="404.52" y="471.75" width="2.7" height="5.75" fill="#cecece"/>
<rect x="411.32" y="471.75" width="2.7" height="7" fill="#cecece"/>
<rect x="418.11" y="471.75" width="2.7" height="7" fill="#cecece"/>
<rect x="424.91" y="471.75" width="2.7" height="5.25" fill="#cecece"/>
<rect x="431.7" y="471.75" width="2.7" height="3.25" fill="#cecece"/>
<rect x="438.49" y="471.75" width="2.7" height="3.25" fill="#cecece"/>
<rect x="445.29" y="471.75" width="2.7" height="2" fill="#cecece"/>
<rect x="452.08" y="471.75" width="2.7" height="1.5" fill="#cecece"/>
<rect x="458.88" y="471.75" width="2.7" height="1.25" fill="#cecece"/>
<rect x="465.67" y="471.75" width="2.7" height="2" fill="#cecece"/>
<polyline points="23,468 31,463 41,457.5 53.5,450 66,443.75 79.75,438.75 91,435 103.5,433.75 126,433.75 133.5,432.5 161,432.5 171,435 186,439.5 201,444.5 213.5,447 256,447 266,448.75 256,447.5 271,448.75 288.5,452 306,456.25 323.5,463.75 341,471.25 356,475.5 373.5,477.5 406,477.5 431,477 451,475.5 468,474.5" fill="none" stroke="#d00000" stroke-width="1.1" />
<line x1="22.5" y1="365.6" x2="468" y2="365.6" stroke="#555" stroke-width="2.6"/>
<line x1="22.5" y1="364.5" x2="468" y2="364.5" stroke="#c4c4c4" stroke-width="1"/>
<line x1="22.5" y1="366.5" x2="468" y2="366.5" stroke="#c4c4c4" stroke-width="1"/>
<line x1="467.9" y1="78" x2="467.9" y2="486" stroke="#b4b4b4" stroke-width="1.5"/>
<line x1="22.5" y1="485.5" x2="468" y2="485.5" stroke="#e8e8e8" stroke-width="1"/>
<text transform="translate(471.6,375.3) scale(0.93,1)" fill="#f0f0f0" font-family="Liberation Sans, sans-serif" font-size="8.4">6.065</text>
<text transform="translate(471.6,474.6) scale(0.93,1)" fill="#f0f0f0" font-family="Liberation Sans, sans-serif" font-size="8.4">0.00</text>
<text transform="translate(471.6,482.3) scale(0.93,1)" fill="#f0f0f0" font-family="Liberation Sans, sans-serif" font-size="8.4">-0.76</text>
<line x1="11.5" y1="485" x2="11.5" y2="488.5" stroke="#e8e8e8" stroke-width="1"/>
<text transform="translate(10.82,496) scale(0.93,1)" fill="#f0f0f0" font-family="Liberation Sans, sans-serif" font-size="8.4">22 Jan 09:01</text>
<line x1="66.5" y1="485" x2="66.5" y2="488.5" stroke="#e8e8e8" stroke-width="1"/>
<text transform="translate(65.17,496) scale(0.93,1)" fill="#f0f0f0" font-family="Liberation Sans, sans-serif" font-size="8.4">22 Jan 09:09</text>
<line x1="120.5" y1="485" x2="120.5" y2="488.5" stroke="#e8e8e8" stroke-width="1"/>
<text transform="translate(119.53,496) scale(0.93,1)" fill="#f0f0f0" font-family="Liberation Sans, sans-serif" font-size="8.4">22 Jan 09:17</text>
<line x1="174.5" y1="485" x2="174.5" y2="488.5" stroke="#e8e8e8" stroke-width="1"/>
<text transform="translate(173.88,496) scale(0.93,1)" fill="#f0f0f0" font-family="Liberation Sans, sans-serif" font-size="8.4">22 Jan 09:25</text>
<line x1="229.5" y1="485" x2="229.5" y2="488.5" stroke="#e8e8e8" stroke-width="1"/>
<text transform="translate(228.22,496) scale(0.93,1)" fill="#f0f0f0" font-family="Liberation Sans, sans-serif" font-size="8.4">22 Jan 09:33</text>
<line x1="283.5" y1="485" x2="283.5" y2="488.5" stroke="#e8e8e8" stroke-width="1"/>
<text transform="translate(282.58,496) scale(0.93,1)" fill="#f0f0f0" font-family="Liberation Sans, sans-serif" font-size="8.4">22 Jan 09:41</text>
<line x1="337.5" y1="485" x2="337.5" y2="488.5" stroke="#e8e8e8" stroke-width="1"/>
<text transform="translate(336.93,496) scale(0.93,1)" fill="#f0f0f0" font-family="Liberation Sans, sans-serif" font-size="8.4">22 Jan 09:49</text>
<line x1="392.5" y1="485" x2="392.5" y2="488.5" stroke="#e8e8e8" stroke-width="1"/>
<text transform="translate(391.28,496) scale(0.93,1)" fill="#f0f0f0" font-family="Liberation Sans, sans-serif" font-size="8.4">22 Jan 09:57</text>
<line x1="446.5" y1="485" x2="446.5" y2="488.5" stroke="#e8e8e8" stroke-width="1"/>
<text transform="translate(445.62,496) scale(0.93,1)" fill="#f0f0f0" font-family="Liberation Sans, sans-serif" font-size="8.4">22 Jan 10:05</text>
</g></g>
<g clip-path="url(#cIn)"><g><g transform="translate(-243,134)">
<rect x="278" y="66" width="232" height="160" fill="#000"/>
<rect x="22.5" y="77.5" width="484.5" height="288" fill="#000"/>
<line x1="39" y1="78" x2="39" y2="365" stroke="#6a7787" stroke-width="1.4" stroke-dasharray="2.6 2.5"/>
<line x1="66.17" y1="78" x2="66.17" y2="365" stroke="#6a7787" stroke-width="1.4" stroke-dasharray="2.6 2.5"/>
<line x1="93.35" y1="78" x2="93.35" y2="365" stroke="#6a7787" stroke-width="1.4" stroke-dasharray="2.6 2.5"/>
<line x1="120.53" y1="78" x2="120.53" y2="365" stroke="#6a7787" stroke-width="1.4" stroke-dasharray="2.6 2.5"/>
<line x1="147.7" y1="78" x2="147.7" y2="365" stroke="#6a7787" stroke-width="1.4" stroke-dasharray="2.6 2.5"/>
<line x1="174.88" y1="78" x2="174.88" y2="365" stroke="#6a7787" stroke-width="1.4" stroke-dasharray="2.6 2.5"/>
<line x1="202.05" y1="78" x2="202.05" y2="365" stroke="#6a7787" stroke-width="1.4" stroke-dasharray="2.6 2.5"/>
<line x1="229.22" y1="78" x2="229.22" y2="365" stroke="#6a7787" stroke-width="1.4" stroke-dasharray="2.6 2.5"/>
<line x1="256.4" y1="78" x2="256.4" y2="365" stroke="#6a7787" stroke-width="1.4" stroke-dasharray="2.6 2.5"/>
<line x1="283.58" y1="78" x2="283.58" y2="365" stroke="#6a7787" stroke-width="1.4" stroke-dasharray="2.6 2.5"/>
<line x1="310.75" y1="78" x2="310.75" y2="365" stroke="#6a7787" stroke-width="1.4" stroke-dasharray="2.6 2.5"/>
<line x1="337.93" y1="78" x2="337.93" y2="365" stroke="#6a7787" stroke-width="1.4" stroke-dasharray="2.6 2.5"/>
<line x1="365.1" y1="78" x2="365.1" y2="365" stroke="#6a7787" stroke-width="1.4" stroke-dasharray="2.6 2.5"/>
<line x1="392.28" y1="78" x2="392.28" y2="365" stroke="#6a7787" stroke-width="1.4" stroke-dasharray="2.6 2.5"/>
<line x1="419.45" y1="78" x2="419.45" y2="365" stroke="#6a7787" stroke-width="1.4" stroke-dasharray="2.6 2.5"/>
<line x1="446.62" y1="78" x2="446.62" y2="365" stroke="#6a7787" stroke-width="1.4" stroke-dasharray="2.6 2.5"/>
<line x1="22.5" y1="82" x2="468" y2="82" stroke="#6a7787" stroke-width="1.4" stroke-dasharray="2.6 2.5"/>
<line x1="22.5" y1="110.03" x2="468" y2="110.03" stroke="#6a7787" stroke-width="1.4" stroke-dasharray="2.6 2.5"/>
<line x1="22.5" y1="138.06" x2="468" y2="138.06" stroke="#6a7787" stroke-width="1.4" stroke-dasharray="2.6 2.5"/>
<line x1="22.5" y1="166.09" x2="468" y2="166.09" stroke="#6a7787" stroke-width="1.4" stroke-dasharray="2.6 2.5"/>
<line x1="22.5" y1="194.12" x2="468" y2="194.12" stroke="#6a7787" stroke-width="1.4" stroke-dasharray="2.6 2.5"/>
<line x1="22.5" y1="222.15" x2="468" y2="222.15" stroke="#6a7787" stroke-width="1.4" stroke-dasharray="2.6 2.5"/>
<line x1="22.5" y1="250.18" x2="468" y2="250.18" stroke="#6a7787" stroke-width="1.4" stroke-dasharray="2.6 2.5"/>
<line x1="22.5" y1="278.21" x2="468" y2="278.21" stroke="#6a7787" stroke-width="1.4" stroke-dasharray="2.6 2.5"/>
<line x1="22.5" y1="306.24" x2="468" y2="306.24" stroke="#6a7787" stroke-width="1.4" stroke-dasharray="2.6 2.5"/>
<line x1="22.5" y1="334.27" x2="468" y2="334.27" stroke="#6a7787" stroke-width="1.4" stroke-dasharray="2.6 2.5"/>
<line x1="22.5" y1="362.3" x2="468" y2="362.3" stroke="#6a7787" stroke-width="1.4" stroke-dasharray="2.6 2.5"/>
<line x1="25.5" y1="153.25" x2="25.5" y2="158.5" stroke="#00f000" stroke-width="1"/>
<line x1="25.5" y1="165.5" x2="25.5" y2="169.5" stroke="#00f000" stroke-width="1"/>
<rect x="23.5" y="158.5" width="4" height="7" fill="none" stroke="#00f000" stroke-width="1"/>
<line x1="32.5" y1="152.5" x2="32.5" y2="154.5" stroke="#00f000" stroke-width="1"/>
<line x1="32.5" y1="158.5" x2="32.5" y2="165.75" stroke="#00f000" stroke-width="1"/>
<rect x="30.5" y="154.5" width="4" height="4" fill="none" stroke="#00f000" stroke-width="1"/>
<line x1="38.5" y1="149" x2="38.5" y2="153.5" stroke="#00f000" stroke-width="1"/>
<line x1="38.5" y1="155.5" x2="38.5" y2="156.5" stroke="#00f000" stroke-width="1"/>
<rect x="36.5" y="153.5" width="4" height="2" fill="none" stroke="#00f000" stroke-width="1"/>
<line x1="45.5" y1="130" x2="45.5" y2="130.5" stroke="#00f000" stroke-width="1"/>
<line x1="45.5" y1="154.5" x2="45.5" y2="156.5" stroke="#00f000" stroke-width="1"/>
<rect x="43.5" y="130.5" width="4" height="24" fill="none" stroke="#00f000" stroke-width="1"/>
<line x1="52.5" y1="120" x2="52.5" y2="134.5" stroke="#00f000" stroke-width="1"/>
<rect x="50.5" y="131.5" width="4" height="2" fill="#ffffff" stroke="#30ff30" stroke-width="1"/>
<line x1="59.5" y1="132" x2="59.5" y2="146.5" stroke="#00f000" stroke-width="1"/>
<rect x="57.5" y="132.5" width="4" height="12" fill="#ffffff" stroke="#30ff30" stroke-width="1"/>
<line x1="66.5" y1="122" x2="66.5" y2="124.5" stroke="#00f000" stroke-width="1"/>
<line x1="66.5" y1="144.5" x2="66.5" y2="150" stroke="#00f000" stroke-width="1"/>
<rect x="64.5" y="124.5" width="4" height="20" fill="none" stroke="#00f000" stroke-width="1"/>
<line x1="72.5" y1="124" x2="72.5" y2="149" stroke="#00f000" stroke-width="1"/>
<rect x="70.5" y="124.5" width="4" height="24" fill="#ffffff" stroke="#30ff30" stroke-width="1"/>
<line x1="79.5" y1="139.5" x2="79.5" y2="144.5" stroke="#00f000" stroke-width="1"/>
<line x1="79.5" y1="147.5" x2="79.5" y2="150.75" stroke="#00f000" stroke-width="1"/>
<rect x="77.5" y="144.5" width="4" height="3" fill="none" stroke="#00f000" stroke-width="1"/>
<line x1="86.5" y1="132" x2="86.5" y2="134.5" stroke="#00f000" stroke-width="1"/>
<line x1="86.5" y1="144.5" x2="86.5" y2="145.75" stroke="#00f000" stroke-width="1"/>
<rect x="84.5" y="134.5" width="4" height="10" fill="none" stroke="#00f000" stroke-width="1"/>
<line x1="93.5" y1="132" x2="93.5" y2="149.5" stroke="#00f000" stroke-width="1"/>
<rect x="91.5" y="134.5" width="4" height="9" fill="#ffffff" stroke="#30ff30" stroke-width="1"/>
<line x1="100.5" y1="132.75" x2="100.5" y2="133.5" stroke="#00f000" stroke-width="1"/>
<line x1="100.5" y1="144.5" x2="100.5" y2="145.75" stroke="#00f000" stroke-width="1"/>
<rect x="98.5" y="133.5" width="4" height="11" fill="none" stroke="#00f000" stroke-width="1"/>
<line x1="106.5" y1="125.75" x2="106.5" y2="127.5" stroke="#00f000" stroke-width="1"/>
<line x1="106.5" y1="134.5" x2="106.5" y2="139.5" stroke="#00f000" stroke-width="1"/>
<rect x="104.5" y="127.5" width="4" height="7" fill="none" stroke="#00f000" stroke-width="1"/>
<line x1="113.5" y1="103.25" x2="113.5" y2="114.5" stroke="#00f000" stroke-width="1"/>
<line x1="113.5" y1="127.5" x2="113.5" y2="130.75" stroke="#00f000" stroke-width="1"/>
<rect x="111.5" y="114.5" width="4" height="13" fill="none" stroke="#00f000" stroke-width="1"/>
<line x1="120.5" y1="113.25" x2="120.5" y2="136.5" stroke="#00f000" stroke-width="1"/>
<rect x="118.5" y="114.5" width="4" height="8" fill="#ffffff" stroke="#30ff30" stroke-width="1"/>
<line x1="127.5" y1="106.5" x2="127.5" y2="107.5" stroke="#00f000" stroke-width="1"/>
<line x1="127.5" y1="122.5" x2="127.5" y2="123.25" stroke="#00f000" stroke-width="1"/>
<rect x="125.5" y="107.5" width="4" height="15" fill="none" stroke="#00f000" stroke-width="1"/>
<line x1="134.5" y1="98.25" x2="134.5" y2="105.5" stroke="#00f000" stroke-width="1"/>
<line x1="134.5" y1="107.5" x2="134.5" y2="109" stroke="#00f000" stroke-width="1"/>
<rect x="132.5" y="105.5" width="4" height="2" fill="none" stroke="#00f000" stroke-width="1"/>
<line x1="140.5" y1="103.25" x2="140.5" y2="112.5" stroke="#00f000" stroke-width="1"/>
<rect x="138.5" y="106.5" width="4" height="6" fill="#ffffff" stroke="#30ff30" stroke-width="1"/>
<line x1="147.5" y1="109" x2="147.5" y2="124.5" stroke="#00f000" stroke-width="1"/>
<rect x="145.5" y="110.5" width="4" height="13" fill="#ffffff" stroke="#30ff30" stroke-width="1"/>
<line x1="154.5" y1="120.75" x2="154.5" y2="138.25" stroke="#00f000" stroke-width="1"/>
<rect x="152.5" y="122.5" width="4" height="12" fill="#ffffff" stroke="#30ff30" stroke-width="1"/>
<line x1="161.5" y1="120.75" x2="161.5" y2="130.5" stroke="#00f000" stroke-width="1"/>
<line x1="161.5" y1="134.5" x2="161.5" y2="135.75" stroke="#00f000" stroke-width="1"/>
<rect x="159.5" y="130.5" width="4" height="4" fill="none" stroke="#00f000" stroke-width="1"/>
<line x1="168.5" y1="125.75" x2="168.5" y2="162.5" stroke="#00f000" stroke-width="1"/>
<rect x="166.5" y="130.5" width="4" height="18" fill="#ffffff" stroke="#30ff30" stroke-width="1"/>
<line x1="174.5" y1="140.75" x2="174.5" y2="141.5" stroke="#00f000" stroke-width="1"/>
<line x1="174.5" y1="149.5" x2="174.5" y2="160.75" stroke="#00f000" stroke-width="1"/>
<rect x="172.5" y="141.5" width="4" height="8" fill="none" stroke="#00f000" stroke-width="1"/>
<line x1="181.5" y1="132" x2="181.5" y2="133.5" stroke="#00f000" stroke-width="1"/>
<line x1="181.5" y1="142.5" x2="181.5" y2="144.5" stroke="#00f000" stroke-width="1"/>
<rect x="179.5" y="133.5" width="4" height="9" fill="none" stroke="#00f000" stroke-width="1"/>
<line x1="188.5" y1="116.5" x2="188.5" y2="117.5" stroke="#00f000" stroke-width="1"/>
<line x1="188.5" y1="127.5" x2="188.5" y2="129" stroke="#00f000" stroke-width="1"/>
<rect x="186.5" y="117.5" width="4" height="10" fill="none" stroke="#00f000" stroke-width="1"/>
<line x1="195.5" y1="94.5" x2="195.5" y2="109.5" stroke="#00f000" stroke-width="1"/>
<line x1="195.5" y1="117.5" x2="195.5" y2="118.25" stroke="#00f000" stroke-width="1"/>
<rect x="193.5" y="109.5" width="4" height="8" fill="none" stroke="#00f000" stroke-width="1"/>
<line x1="202.5" y1="102" x2="202.5" y2="103.5" stroke="#00f000" stroke-width="1"/>
<line x1="202.5" y1="113.5" x2="202.5" y2="117" stroke="#00f000" stroke-width="1"/>
<rect x="200.5" y="103.5" width="4" height="10" fill="none" stroke="#00f000" stroke-width="1"/>
<line x1="208.5" y1="96.5" x2="208.5" y2="118.25" stroke="#00f000" stroke-width="1"/>
<line x1="206" y1="103.5" x2="211" y2="103.5" stroke="#00f000" stroke-width="1"/>
<line x1="215.5" y1="96.5" x2="215.5" y2="101.5" stroke="#00f000" stroke-width="1"/>
<line x1="215.5" y1="104.5" x2="215.5" y2="105.75" stroke="#00f000" stroke-width="1"/>
<rect x="213.5" y="101.5" width="4" height="3" fill="none" stroke="#00f000" stroke-width="1"/>
<line x1="222.5" y1="102" x2="222.5" y2="123.25" stroke="#00f000" stroke-width="1"/>
<rect x="220.5" y="102.5" width="4" height="10" fill="#ffffff" stroke="#30ff30" stroke-width="1"/>
<line x1="229.5" y1="100" x2="229.5" y2="110.5" stroke="#00f000" stroke-width="1"/>
<line x1="229.5" y1="112.5" x2="229.5" y2="118.25" stroke="#00f000" stroke-width="1"/>
<rect x="227.5" y="110.5" width="4" height="2" fill="none" stroke="#00f000" stroke-width="1"/>
<line x1="236.5" y1="106.5" x2="236.5" y2="107.5" stroke="#00f000" stroke-width="1"/>
<line x1="236.5" y1="111.5" x2="236.5" y2="115" stroke="#00f000" stroke-width="1"/>
<rect x="234.5" y="107.5" width="4" height="4" fill="none" stroke="#00f000" stroke-width="1"/>
<line x1="242.5" y1="104.5" x2="242.5" y2="122" stroke="#00f000" stroke-width="1"/>
<rect x="240.5" y="107.5" width="4" height="13" fill="#ffffff" stroke="#30ff30" stroke-width="1"/>
<line x1="249.5" y1="113.25" x2="249.5" y2="118.5" stroke="#00f000" stroke-width="1"/>
<line x1="249.5" y1="121.5" x2="249.5" y2="127" stroke="#00f000" stroke-width="1"/>
<rect x="247.5" y="118.5" width="4" height="3" fill="none" stroke="#00f000" stroke-width="1"/>
<line x1="256.5" y1="101.5" x2="256.5" y2="102.5" stroke="#00f000" stroke-width="1"/>
<line x1="256.5" y1="118.5" x2="256.5" y2="120.75" stroke="#00f000" stroke-width="1"/>
<rect x="254.5" y="102.5" width="4" height="16" fill="none" stroke="#00f000" stroke-width="1"/>
<line x1="263.5" y1="102" x2="263.5" y2="110" stroke="#00f000" stroke-width="1"/>
<rect x="261.5" y="103.5" width="4" height="6" fill="#ffffff" stroke="#30ff30" stroke-width="1"/>
<line x1="269.5" y1="100.75" x2="269.5" y2="110.75" stroke="#00f000" stroke-width="1"/>
<line x1="267" y1="109.5" x2="272" y2="109.5" stroke="#00f000" stroke-width="1"/>
<line x1="276.5" y1="107.5" x2="276.5" y2="112.5" stroke="#00f000" stroke-width="1"/>
<rect x="274.5" y="109.5" width="4" height="2" fill="#ffffff" stroke="#30ff30" stroke-width="1"/>
<line x1="283.5" y1="103.25" x2="283.5" y2="124.5" stroke="#00f000" stroke-width="1"/>
<rect x="281.5" y="112.5" width="4" height="7" fill="#ffffff" stroke="#30ff30" stroke-width="1"/>
<line x1="290.5" y1="114.5" x2="290.5" y2="115.5" stroke="#00f000" stroke-width="1"/>
<line x1="290.5" y1="118.5" x2="290.5" y2="125.75" stroke="#00f000" stroke-width="1"/>
<rect x="288.5" y="115.5" width="4" height="3" fill="none" stroke="#00f000" stroke-width="1"/>
<line x1="297.5" y1="91.5" x2="297.5" y2="133.25" stroke="#00f000" stroke-width="1"/>
<rect x="295.5" y="117.5" width="4" height="13" fill="#ffffff" stroke="#30ff30" stroke-width="1"/>
<line x1="303.5" y1="129" x2="303.5" y2="138.25" stroke="#00f000" stroke-width="1"/>
<rect x="301.5" y="130.5" width="4" height="4" fill="#ffffff" stroke="#30ff30" stroke-width="1"/>
<line x1="310.5" y1="130.75" x2="310.5" y2="149.5" stroke="#00f000" stroke-width="1"/>
<rect x="308.5" y="131.5" width="4" height="17" fill="#ffffff" stroke="#30ff30" stroke-width="1"/>
<line x1="317.5" y1="140.75" x2="317.5" y2="145.5" stroke="#00f000" stroke-width="1"/>
<line x1="317.5" y1="148.5" x2="317.5" y2="150" stroke="#00f000" stroke-width="1"/>
<rect x="315.5" y="145.5" width="4" height="3" fill="none" stroke="#00f000" stroke-width="1"/>
<line x1="324.5" y1="143.25" x2="324.5" y2="155.75" stroke="#00f000" stroke-width="1"/>
<line x1="322" y1="144.5" x2="327" y2="144.5" stroke="#00f000" stroke-width="1"/>
<line x1="331.5" y1="130" x2="331.5" y2="138.5" stroke="#00f000" stroke-width="1"/>
<line x1="331.5" y1="145.5" x2="331.5" y2="145.75" stroke="#00f000" stroke-width="1"/>
<rect x="329.5" y="138.5" width="4" height="7" fill="none" stroke="#00f000" stroke-width="1"/>
<line x1="337.5" y1="128.25" x2="337.5" y2="135.5" stroke="#00f000" stroke-width="1"/>
<line x1="337.5" y1="138.5" x2="337.5" y2="144.5" stroke="#00f000" stroke-width="1"/>
<rect x="335.5" y="135.5" width="4" height="3" fill="none" stroke="#00f000" stroke-width="1"/>
<line x1="344.5" y1="127.5" x2="344.5" y2="128.5" stroke="#00f000" stroke-width="1"/>
<line x1="344.5" y1="136.5" x2="344.5" y2="142.5" stroke="#00f000" stroke-width="1"/>
<rect x="342.5" y="128.5" width="4" height="8" fill="none" stroke="#00f000" stroke-width="1"/>
<line x1="351.5" y1="129" x2="351.5" y2="139.5" stroke="#00f000" stroke-width="1"/>
<line x1="349" y1="129.5" x2="354" y2="129.5" stroke="#00f000" stroke-width="1"/>
<line x1="358.5" y1="129.5" x2="358.5" y2="138.25" stroke="#00f000" stroke-width="1"/>
<rect x="356.5" y="130.5" width="4" height="4" fill="#ffffff" stroke="#30ff30" stroke-width="1"/>
<line x1="365.5" y1="129.5" x2="365.5" y2="138.25" stroke="#00f000" stroke-width="1"/>
<rect x="363.5" y="132.5" width="4" height="2" fill="#ffffff" stroke="#30ff30" stroke-width="1"/>
<line x1="371.5" y1="125.75" x2="371.5" y2="142" stroke="#00f000" stroke-width="1"/>
<rect x="369.5" y="133.5" width="4" height="4" fill="#ffffff" stroke="#30ff30" stroke-width="1"/>
<line x1="378.5" y1="134.5" x2="378.5" y2="154.5" stroke="#00f000" stroke-width="1"/>
<rect x="376.5" y="135.5" width="4" height="11" fill="#ffffff" stroke="#30ff30" stroke-width="1"/>
<line x1="385.5" y1="133.25" x2="385.5" y2="134.5" stroke="#00f000" stroke-width="1"/>
<line x1="385.5" y1="145.5" x2="385.5" y2="151.5" stroke="#00f000" stroke-width="1"/>
<rect x="383.5" y="134.5" width="4" height="11" fill="none" stroke="#00f000" stroke-width="1"/>
<line x1="392.5" y1="127" x2="392.5" y2="127.5" stroke="#00f000" stroke-width="1"/>
<line x1="392.5" y1="135.5" x2="392.5" y2="136.5" stroke="#00f000" stroke-width="1"/>
<rect x="390.5" y="127.5" width="4" height="8" fill="none" stroke="#00f000" stroke-width="1"/>
<line x1="399.5" y1="115.75" x2="399.5" y2="125.75" stroke="#00f000" stroke-width="1"/>
<line x1="397" y1="124.5" x2="402" y2="124.5" stroke="#00f000" stroke-width="1"/>
<line x1="405.5" y1="124.5" x2="405.5" y2="140.75" stroke="#00f000" stroke-width="1"/>
<rect x="403.5" y="125.5" width="4" height="15" fill="#ffffff" stroke="#30ff30" stroke-width="1"/>
<line x1="412.5" y1="133.25" x2="412.5" y2="155.75" stroke="#00f000" stroke-width="1"/>
<rect x="410.5" y="140.5" width="4" height="10" fill="#ffffff" stroke="#30ff30" stroke-width="1"/>
<line x1="419.5" y1="137" x2="419.5" y2="144.5" stroke="#00f000" stroke-width="1"/>
<line x1="419.5" y1="150.5" x2="419.5" y2="152" stroke="#00f000" stroke-width="1"/>
<rect x="417.5" y="144.5" width="4" height="6" fill="none" stroke="#00f000" stroke-width="1"/>
<line x1="426.5" y1="115" x2="426.5" y2="118.5" stroke="#00f000" stroke-width="1"/>
<line x1="426.5" y1="144.5" x2="426.5" y2="145" stroke="#00f000" stroke-width="1"/>
<rect x="424.5" y="118.5" width="4" height="26" fill="none" stroke="#00f000" stroke-width="1"/>
<line x1="433.5" y1="116.5" x2="433.5" y2="128.25" stroke="#00f000" stroke-width="1"/>
<rect x="431.5" y="117.5" width="4" height="7" fill="#ffffff" stroke="#30ff30" stroke-width="1"/>
<line x1="439.5" y1="124.5" x2="439.5" y2="140.75" stroke="#00f000" stroke-width="1"/>
<rect x="437.5" y="125.5" width="4" height="14" fill="#ffffff" stroke="#30ff30" stroke-width="1"/>
<line x1="446.5" y1="130" x2="446.5" y2="131.5" stroke="#00f000" stroke-width="1"/>
<line x1="446.5" y1="139.5" x2="446.5" y2="145" stroke="#00f000" stroke-width="1"/>
<rect x="444.5" y="131.5" width="4" height="8" fill="none" stroke="#00f000" stroke-width="1"/>
<line x1="453.5" y1="117.5" x2="453.5" y2="119.5" stroke="#00f000" stroke-width="1"/>
<line x1="453.5" y1="130.5" x2="453.5" y2="132" stroke="#00f000" stroke-width="1"/>
<rect x="451.5" y="119.5" width="4" height="11" fill="none" stroke="#00f000" stroke-width="1"/>
<line x1="460.5" y1="118.25" x2="460.5" y2="134" stroke="#00f000" stroke-width="1"/>
<rect x="458.5" y="119.5" width="4" height="9" fill="#ffffff" stroke="#30ff30" stroke-width="1"/>
<line x1="467.5" y1="128.25" x2="467.5" y2="144" stroke="#00f000" stroke-width="1"/>
<rect x="465.5" y="129.5" width="4" height="14" fill="#ffffff" stroke="#30ff30" stroke-width="1"/>
<line x1="25.5" y1="209" x2="25.5" y2="271" stroke="#e09858" stroke-width="1" stroke-dasharray="2.4 2.4"/>
<line x1="32.5" y1="209" x2="32.5" y2="271" stroke="#e09858" stroke-width="1" stroke-dasharray="2.4 2.4"/>
<line x1="38.5" y1="208.9" x2="38.5" y2="271" stroke="#e09858" stroke-width="1" stroke-dasharray="2.4 2.4"/>
<line x1="45.5" y1="207.54" x2="45.5" y2="264.9" stroke="#e09858" stroke-width="1" stroke-dasharray="2.4 2.4"/>
<line x1="52.5" y1="207.29" x2="52.5" y2="263.1" stroke="#e09858" stroke-width="1" stroke-dasharray="2.4 2.4"/>
<line x1="59.5" y1="207.78" x2="59.5" y2="262.09" stroke="#e09858" stroke-width="1" stroke-dasharray="2.4 2.4"/>
<line x1="66.5" y1="208.13" x2="66.5" y2="262" stroke="#e09858" stroke-width="1" stroke-dasharray="2.4 2.4"/>
<line x1="72.5" y1="203.37" x2="72.5" y2="262" stroke="#e09858" stroke-width="1" stroke-dasharray="2.4 2.4"/>
<line x1="79.5" y1="199.08" x2="79.5" y2="262" stroke="#e09858" stroke-width="1" stroke-dasharray="2.4 2.4"/>
<line x1="86.5" y1="196.81" x2="86.5" y2="262" stroke="#e09858" stroke-width="1" stroke-dasharray="2.4 2.4"/>
<line x1="93.5" y1="194.55" x2="93.5" y2="262" stroke="#e09858" stroke-width="1" stroke-dasharray="2.4 2.4"/>
<line x1="100.5" y1="195.83" x2="100.5" y2="262" stroke="#e09858" stroke-width="1" stroke-dasharray="2.4 2.4"/>
<line x1="106.5" y1="197.47" x2="106.5" y2="262" stroke="#e09858" stroke-width="1" stroke-dasharray="2.4 2.4"/>
<line x1="113.5" y1="200.87" x2="113.5" y2="262" stroke="#e09858" stroke-width="1" stroke-dasharray="2.4 2.4"/>
<line x1="120.5" y1="204.26" x2="120.5" y2="261.68" stroke="#e09858" stroke-width="1" stroke-dasharray="2.4 2.4"/>
<line x1="127.5" y1="208.29" x2="127.5" y2="257.61" stroke="#e09858" stroke-width="1" stroke-dasharray="2.4 2.4"/>
<line x1="134.5" y1="209.32" x2="134.5" y2="253.53" stroke="#e09858" stroke-width="1" stroke-dasharray="2.4 2.4"/>
<line x1="140.5" y1="209.71" x2="140.5" y2="249.96" stroke="#e09858" stroke-width="1" stroke-dasharray="2.4 2.4"/>
<line x1="147.5" y1="209.93" x2="147.5" y2="249.69" stroke="#e09858" stroke-width="1" stroke-dasharray="2.4 2.4"/>
<line x1="154.5" y1="209.66" x2="154.5" y2="249.42" stroke="#e09858" stroke-width="1" stroke-dasharray="2.4 2.4"/>
<line x1="161.5" y1="209.39" x2="161.5" y2="249.15" stroke="#e09858" stroke-width="1" stroke-dasharray="2.4 2.4"/>
<line x1="168.5" y1="209.12" x2="168.5" y2="248.88" stroke="#e09858" stroke-width="1" stroke-dasharray="2.4 2.4"/>
<line x1="174.5" y1="207.16" x2="174.5" y2="248.6" stroke="#e09858" stroke-width="1" stroke-dasharray="2.4 2.4"/>
<line x1="181.5" y1="203.93" x2="181.5" y2="248.33" stroke="#e09858" stroke-width="1" stroke-dasharray="2.4 2.4"/>
<line x1="188.5" y1="200.7" x2="188.5" y2="248.06" stroke="#e09858" stroke-width="1" stroke-dasharray="2.4 2.4"/>
<line x1="195.5" y1="197.13" x2="195.5" y2="239.93" stroke="#e09858" stroke-width="1" stroke-dasharray="2.4 2.4"/>
<line x1="202.5" y1="193.36" x2="202.5" y2="229.52" stroke="#e09858" stroke-width="1" stroke-dasharray="2.4 2.4"/>
<line x1="208.5" y1="188.85" x2="208.5" y2="220.1" stroke="#e09858" stroke-width="1" stroke-dasharray="2.4 2.4"/>
<line x1="215.5" y1="183.07" x2="215.5" y2="211.46" stroke="#e09858" stroke-width="1" stroke-dasharray="2.4 2.4"/>
<line x1="222.5" y1="174.58" x2="222.5" y2="202.5" stroke="#e09858" stroke-width="1" stroke-dasharray="2.4 2.4"/>
<line x1="229.5" y1="166.98" x2="229.5" y2="194.43" stroke="#e09858" stroke-width="1" stroke-dasharray="2.4 2.4"/>
<line x1="236.5" y1="166.79" x2="236.5" y2="193.75" stroke="#e09858" stroke-width="1" stroke-dasharray="2.4 2.4"/>
<line x1="242.5" y1="166.59" x2="242.5" y2="193.07" stroke="#e09858" stroke-width="1" stroke-dasharray="2.4 2.4"/>
<line x1="249.5" y1="164.42" x2="249.5" y2="185.18" stroke="#e09858" stroke-width="1" stroke-dasharray="2.4 2.4"/>
<line x1="256.5" y1="160.68" x2="256.5" y2="175.75" stroke="#e09858" stroke-width="1" stroke-dasharray="2.4 2.4"/>
<line x1="263.5" y1="159.49" x2="263.5" y2="175.75" stroke="#e09858" stroke-width="1" stroke-dasharray="2.4 2.4"/>
<line x1="269.5" y1="157.59" x2="269.5" y2="175.75" stroke="#e09858" stroke-width="1" stroke-dasharray="2.4 2.4"/>
<line x1="276.5" y1="156.67" x2="276.5" y2="175.75" stroke="#e09858" stroke-width="1" stroke-dasharray="2.4 2.4"/>
<line x1="283.5" y1="155.65" x2="283.5" y2="175.67" stroke="#e09858" stroke-width="1" stroke-dasharray="2.4 2.4"/>
<line x1="290.5" y1="147.73" x2="290.5" y2="168.87" stroke="#e09858" stroke-width="1" stroke-dasharray="2.4 2.4"/>
<line x1="297.5" y1="146.72" x2="297.5" y2="167.43" stroke="#e09858" stroke-width="1" stroke-dasharray="2.4 2.4"/>
<line x1="303.5" y1="146.41" x2="303.5" y2="166.52" stroke="#e09858" stroke-width="1" stroke-dasharray="2.4 2.4"/>
<line x1="310.5" y1="146.1" x2="310.5" y2="165.74" stroke="#e09858" stroke-width="1" stroke-dasharray="2.4 2.4"/>
<line x1="317.5" y1="145.79" x2="317.5" y2="165.69" stroke="#e09858" stroke-width="1" stroke-dasharray="2.4 2.4"/>
<line x1="324.5" y1="141.37" x2="324.5" y2="165.63" stroke="#e09858" stroke-width="1" stroke-dasharray="2.4 2.4"/>
<line x1="331.5" y1="138.05" x2="331.5" y2="165.58" stroke="#e09858" stroke-width="1" stroke-dasharray="2.4 2.4"/>
<line x1="337.5" y1="137.52" x2="337.5" y2="165.53" stroke="#e09858" stroke-width="1" stroke-dasharray="2.4 2.4"/>
<line x1="344.5" y1="137" x2="344.5" y2="165.47" stroke="#e09858" stroke-width="1" stroke-dasharray="2.4 2.4"/>
<line x1="351.5" y1="136.48" x2="351.5" y2="165.42" stroke="#e09858" stroke-width="1" stroke-dasharray="2.4 2.4"/>
<line x1="358.5" y1="135.96" x2="358.5" y2="165.37" stroke="#e09858" stroke-width="1" stroke-dasharray="2.4 2.4"/>
<line x1="365.5" y1="134.11" x2="365.5" y2="165.31" stroke="#e09858" stroke-width="1" stroke-dasharray="2.4 2.4"/>
<line x1="371.5" y1="131.39" x2="371.5" y2="165.26" stroke="#e09858" stroke-width="1" stroke-dasharray="2.4 2.4"/>
<line x1="378.5" y1="129.64" x2="378.5" y2="165.21" stroke="#e09858" stroke-width="1" stroke-dasharray="2.4 2.4"/>
<line x1="385.5" y1="128.18" x2="385.5" y2="165.15" stroke="#e09858" stroke-width="1" stroke-dasharray="2.4 2.4"/>
<line x1="392.5" y1="126.84" x2="392.5" y2="165.1" stroke="#e09858" stroke-width="1" stroke-dasharray="2.4 2.4"/>
<line x1="399.5" y1="125.99" x2="399.5" y2="165.04" stroke="#e09858" stroke-width="1" stroke-dasharray="2.4 2.4"/>
<line x1="405.5" y1="125.14" x2="405.5" y2="164.99" stroke="#e09858" stroke-width="1" stroke-dasharray="2.4 2.4"/>
<line x1="412.5" y1="123.67" x2="412.5" y2="164.94" stroke="#e09858" stroke-width="1" stroke-dasharray="2.4 2.4"/>
<line x1="419.5" y1="120.27" x2="419.5" y2="164.88" stroke="#e09858" stroke-width="1" stroke-dasharray="2.4 2.4"/>
<line x1="426.5" y1="119.44" x2="426.5" y2="164.83" stroke="#e09858" stroke-width="1" stroke-dasharray="2.4 2.4"/>
<line x1="433.5" y1="119.37" x2="433.5" y2="164.78" stroke="#e09858" stroke-width="1" stroke-dasharray="2.4 2.4"/>
<line x1="439.5" y1="119.3" x2="439.5" y2="164.72" stroke="#e09858" stroke-width="1" stroke-dasharray="2.4 2.4"/>
<line x1="446.5" y1="119.23" x2="446.5" y2="164.67" stroke="#e09858" stroke-width="1" stroke-dasharray="2.4 2.4"/>
<line x1="453.5" y1="119.15" x2="453.5" y2="164.62" stroke="#e09858" stroke-width="1" stroke-dasharray="2.4 2.4"/>
<line x1="460.5" y1="119.08" x2="460.5" y2="164.56" stroke="#e09858" stroke-width="1" stroke-dasharray="2.4 2.4"/>
<polyline points="22.5,271 41,271 46.5,264 60,262 120,262 140,250 190,248 205,225 216,211 228.5,194.5 243.5,193 256,177 256,175.75 283.5,175.75 291,168.25 309.75,165.75 468,164.5" fill="none" stroke="#c8c0cc" stroke-width="1" stroke-dasharray="2.5 2.5" />
<polyline points="23,209 38.5,209 48.5,207 66,208.25 78.5,199.5 93.5,194.5 106,197 121,204.5 128.5,209 146,210 171,209 191,199.5 202.25,193.25 213.5,185.75 223.5,173.25 228.5,167 246,166.5 256,160.75 266,159 256,159.5 283.5,155.75 291,147 318.5,145.75 328.5,138.25 361,135.75 373.5,130.75 391,127 411,124.5 421,119.5 468,119" fill="none" stroke="#e09858" stroke-width="1" stroke-dasharray="2.5 2.5" />
<polyline points="23,194.5 38.5,191.5 46,182 53,176.5 107.25,175.75 114.75,167.5 141,165.75 148.5,157 156,150.75 166,149 181,147.5 188.5,139.5 196,132 206,129 266,128.5 256,128.5 291,128.5 302.25,126.5 338.5,125.75 349.75,123.25 376,124 431,124.5 468,124.5" fill="none" stroke="#0000d0" stroke-width="1.3" />
<polyline points="23,194 31,185.75 39.75,177 46,165.75 52.25,159.5 66,159 76,148.25 79.75,144.5 91,140 106,135.75 114.75,127.5 121,126.5 146,124 160.5,119 167.25,129.5 172.25,130 188.5,130 202.25,128.25 228.5,127 236,118.25 246,110.75 266,110.75 256,112 271,112 277.25,114.5 289.75,114.5 297.25,112 302.25,114.5 311,121.5 323.5,123.25 349.75,124 354.75,130 359,140.75 363.5,142 391,141.5 399.75,135.75 416,135.75 431,135 453.5,134.5 459.75,135.75 468,135.75" fill="none" stroke="#c80000" stroke-width="1.2" />
<polyline points="23,105 28.5,104 38.5,102 46,112 58.5,108.25 67.25,120.75 73.5,117 79.75,103.25 87.25,109 93.5,109.5 101,113.25 107.25,119.5 114.75,114.5 121,129.5 134.75,148.25 148.5,144.5 161,135.75 168.5,130 178.5,132 191,134.5 202.25,146.5 213.5,129.5 219.75,124.5 226,132 236,150 243.5,139.5 249.75,119.5 256,125.75 263.5,139 256,128.25 263.5,139.5 277.25,118.25 283.5,128.25 289.75,143.25 297.25,177 304,205.75 311,194.5 317.25,176.5 324.75,178.25 331,180.75 344.75,189 356,187 364.75,192.5 378.5,168.25 386,172 392.25,171.5 399.75,173.25 406,178.25 412.25,166.5 419.75,179.5 426,183.25 432.25,194 439.75,185.75 447.25,209.5 453.5,221.5 459.75,198.25 466.75,203.25" fill="none" stroke="#00a800" stroke-width="1.2" />
<rect x="468" y="77.5" width="39" height="288" fill="#000"/>
<line x1="467.9" y1="78" x2="467.9" y2="486" stroke="#b4b4b4" stroke-width="1.5"/>
<line x1="468" y1="82.5" x2="470.5" y2="82.5" stroke="#e8e8e8" stroke-width="1"/>
<text transform="translate(472.3,85.02) scale(0.93,1)" fill="#f0f0f0" font-family="Liberation Sans, sans-serif" font-size="8.4">4839.50</text>
<line x1="468" y1="110.5" x2="470.5" y2="110.5" stroke="#e8e8e8" stroke-width="1"/>
<text transform="translate(472.3,113.05) scale(0.93,1)" fill="#f0f0f0" font-family="Liberation Sans, sans-serif" font-size="8.4">4836.20</text>
<line x1="468" y1="138.5" x2="470.5" y2="138.5" stroke="#e8e8e8" stroke-width="1"/>
<text transform="translate(472.3,141.08) scale(0.93,1)" fill="#f0f0f0" font-family="Liberation Sans, sans-serif" font-size="8.4">4832.80</text>
<line x1="468" y1="166.5" x2="470.5" y2="166.5" stroke="#e8e8e8" stroke-width="1"/>
<text transform="translate(472.3,169.11) scale(0.93,1)" fill="#f0f0f0" font-family="Liberation Sans, sans-serif" font-size="8.4">4829.40</text>
<line x1="468" y1="194.5" x2="470.5" y2="194.5" stroke="#e8e8e8" stroke-width="1"/>
<text transform="translate(472.3,197.14) scale(0.93,1)" fill="#f0f0f0" font-family="Liberation Sans, sans-serif" font-size="8.4">4826.00</text>
<line x1="468" y1="222.5" x2="470.5" y2="222.5" stroke="#e8e8e8" stroke-width="1"/>
<text transform="translate(472.3,225.17) scale(0.93,1)" fill="#f0f0f0" font-family="Liberation Sans, sans-serif" font-size="8.4">4822.60</text>
<line x1="468" y1="250.5" x2="470.5" y2="250.5" stroke="#e8e8e8" stroke-width="1"/>
<text transform="translate(472.3,253.2) scale(0.93,1)" fill="#f0f0f0" font-family="Liberation Sans, sans-serif" font-size="8.4">4819.30</text>
<line x1="468" y1="278.5" x2="470.5" y2="278.5" stroke="#e8e8e8" stroke-width="1"/>
<text transform="translate(472.3,281.23) scale(0.93,1)" fill="#f0f0f0" font-family="Liberation Sans, sans-serif" font-size="8.4">4815.90</text>
<line x1="468" y1="306.5" x2="470.5" y2="306.5" stroke="#e8e8e8" stroke-width="1"/>
<text transform="translate(472.3,309.26) scale(0.93,1)" fill="#f0f0f0" font-family="Liberation Sans, sans-serif" font-size="8.4">4812.50</text>
<line x1="468" y1="334.5" x2="470.5" y2="334.5" stroke="#e8e8e8" stroke-width="1"/>
<text transform="translate(472.3,337.29) scale(0.93,1)" fill="#f0f0f0" font-family="Liberation Sans, sans-serif" font-size="8.4">4809.10</text>
<line x1="468" y1="362.5" x2="470.5" y2="362.5" stroke="#e8e8e8" stroke-width="1"/>
<text transform="translate(472.3,365.32) scale(0.93,1)" fill="#f0f0f0" font-family="Liberation Sans, sans-serif" font-size="8.4">4805.80</text>
<polygon points="273,78 279,78 276,81.5" fill="#9aa8b4"/>
<rect x="506.7" y="66" width="13" height="160" fill="#fff"/>
</g></g></g>
<line x1="46.5" y1="212.5" x2="225.5" y2="212.5" stroke="#c8c8c8" stroke-width="1"/>
<line x1="46.5" y1="212" x2="46.5" y2="330" stroke="#3a3a3a" stroke-width="1"/>
<line x1="264.5" y1="212" x2="264.5" y2="344.5" stroke="#ffffff" stroke-width="1.2"/>
<path d="M74.2,273.4 C76.63,272.52 83.75,270.03 88.8,268.1 C93.85,266.17 98.97,263.27 104.5,261.8 C110.03,260.33 116.47,259.87 122,259.3 C127.53,258.73 132.48,259.12 137.7,258.4 C142.92,257.68 147.45,255.95 153.3,255 C159.15,254.05 165.63,253.25 172.8,252.7 C179.97,252.15 189.78,251.58 196.3,251.7 C202.82,251.82 207.18,252.4 211.9,253.4 C216.62,254.4 222.48,256.98 224.6,257.7" fill="none" stroke="#e8202c" stroke-width="3.6" stroke-linecap="round"/>
<g clip-path="url(#cM5)"><g>
<rect x="510" y="67" width="201" height="453" fill="#000"/>
<g clip-path="url(#cM5c)">
<line x1="526.7" y1="78" x2="526.7" y2="491.5" stroke="#6a7787" stroke-width="1.4" stroke-dasharray="2.6 2.5"/>
<line x1="554.9" y1="78" x2="554.9" y2="491.5" stroke="#6a7787" stroke-width="1.4" stroke-dasharray="2.6 2.5"/>
<line x1="583.1" y1="78" x2="583.1" y2="491.5" stroke="#6a7787" stroke-width="1.4" stroke-dasharray="2.6 2.5"/>
<line x1="611.3" y1="78" x2="611.3" y2="491.5" stroke="#6a7787" stroke-width="1.4" stroke-dasharray="2.6 2.5"/>
<line x1="520.5" y1="102" x2="661.3" y2="102" stroke="#6a7787" stroke-width="1.4" stroke-dasharray="2.6 2.5"/>
<line x1="520.5" y1="131.17" x2="661.3" y2="131.17" stroke="#6a7787" stroke-width="1.4" stroke-dasharray="2.6 2.5"/>
<line x1="520.5" y1="160.34" x2="661.3" y2="160.34" stroke="#6a7787" stroke-width="1.4" stroke-dasharray="2.6 2.5"/>
<line x1="520.5" y1="189.51" x2="661.3" y2="189.51" stroke="#6a7787" stroke-width="1.4" stroke-dasharray="2.6 2.5"/>
<line x1="520.5" y1="218.68" x2="661.3" y2="218.68" stroke="#6a7787" stroke-width="1.4" stroke-dasharray="2.6 2.5"/>
<line x1="520.5" y1="247.85" x2="661.3" y2="247.85" stroke="#6a7787" stroke-width="1.4" stroke-dasharray="2.6 2.5"/>
<line x1="520.5" y1="277.02" x2="661.3" y2="277.02" stroke="#6a7787" stroke-width="1.4" stroke-dasharray="2.6 2.5"/>
<line x1="520.5" y1="306.19" x2="661.3" y2="306.19" stroke="#6a7787" stroke-width="1.4" stroke-dasharray="2.6 2.5"/>
<line x1="520.5" y1="335.36" x2="661.3" y2="335.36" stroke="#6a7787" stroke-width="1.4" stroke-dasharray="2.6 2.5"/>
<line x1="520.5" y1="364.53" x2="661.3" y2="364.53" stroke="#6a7787" stroke-width="1.4" stroke-dasharray="2.6 2.5"/>
<line x1="519.5" y1="124.12" x2="519.5" y2="137.25" stroke="#00f000" stroke-width="1"/>
<rect x="517.5" y="124.5" width="4" height="12" fill="#ffffff" stroke="#30ff30" stroke-width="1"/>
<line x1="526.5" y1="131.06" x2="526.5" y2="131.5" stroke="#00f000" stroke-width="1"/>
<line x1="526.5" y1="137.5" x2="526.5" y2="138.56" stroke="#00f000" stroke-width="1"/>
<rect x="524.5" y="131.5" width="4" height="6" fill="none" stroke="#00f000" stroke-width="1"/>
<line x1="533.5" y1="131.62" x2="533.5" y2="144.19" stroke="#00f000" stroke-width="1"/>
<rect x="531.5" y="132.5" width="4" height="11" fill="#ffffff" stroke="#30ff30" stroke-width="1"/>
<line x1="540.5" y1="126.38" x2="540.5" y2="126.5" stroke="#00f000" stroke-width="1"/>
<line x1="540.5" y1="144.5" x2="540.5" y2="144.75" stroke="#00f000" stroke-width="1"/>
<rect x="538.5" y="126.5" width="4" height="18" fill="none" stroke="#00f000" stroke-width="1"/>
<line x1="547.5" y1="111.75" x2="547.5" y2="112.5" stroke="#00f000" stroke-width="1"/>
<line x1="547.5" y1="126.5" x2="547.5" y2="131.06" stroke="#00f000" stroke-width="1"/>
<rect x="545.5" y="112.5" width="4" height="14" fill="none" stroke="#00f000" stroke-width="1"/>
<line x1="554.5" y1="99.19" x2="554.5" y2="101.5" stroke="#00f000" stroke-width="1"/>
<line x1="554.5" y1="112.5" x2="554.5" y2="114.19" stroke="#00f000" stroke-width="1"/>
<rect x="552.5" y="101.5" width="4" height="11" fill="none" stroke="#00f000" stroke-width="1"/>
<line x1="561.5" y1="101.06" x2="561.5" y2="112.31" stroke="#00f000" stroke-width="1"/>
<rect x="559.5" y="101.5" width="4" height="3" fill="#ffffff" stroke="#30ff30" stroke-width="1"/>
<line x1="569.5" y1="91.31" x2="569.5" y2="94.5" stroke="#00f000" stroke-width="1"/>
<line x1="569.5" y1="105.5" x2="569.5" y2="107.62" stroke="#00f000" stroke-width="1"/>
<rect x="567.5" y="94.5" width="4" height="11" fill="none" stroke="#00f000" stroke-width="1"/>
<line x1="576.5" y1="93.56" x2="576.5" y2="116.62" stroke="#00f000" stroke-width="1"/>
<rect x="574.5" y="94.5" width="4" height="17" fill="#ffffff" stroke="#30ff30" stroke-width="1"/>
<line x1="583.5" y1="89.81" x2="583.5" y2="93.5" stroke="#00f000" stroke-width="1"/>
<line x1="583.5" y1="111.5" x2="583.5" y2="116.06" stroke="#00f000" stroke-width="1"/>
<rect x="581.5" y="93.5" width="4" height="18" fill="none" stroke="#00f000" stroke-width="1"/>
<line x1="590.5" y1="89.81" x2="590.5" y2="101.06" stroke="#00f000" stroke-width="1"/>
<line x1="588" y1="93.5" x2="593" y2="93.5" stroke="#00f000" stroke-width="1"/>
<line x1="597.5" y1="91.69" x2="597.5" y2="102.94" stroke="#00f000" stroke-width="1"/>
<line x1="595" y1="94.5" x2="600" y2="94.5" stroke="#00f000" stroke-width="1"/>
<line x1="604.5" y1="88.88" x2="604.5" y2="107.62" stroke="#00f000" stroke-width="1"/>
<rect x="602.5" y="95.5" width="4" height="9" fill="#ffffff" stroke="#30ff30" stroke-width="1"/>
<line x1="611.5" y1="103.5" x2="611.5" y2="114.19" stroke="#00f000" stroke-width="1"/>
<rect x="609.5" y="104.5" width="4" height="2" fill="#ffffff" stroke="#30ff30" stroke-width="1"/>
<line x1="618.5" y1="103.5" x2="618.5" y2="108.56" stroke="#00f000" stroke-width="1"/>
<line x1="616" y1="105.5" x2="621" y2="105.5" stroke="#00f000" stroke-width="1"/>
<line x1="625.5" y1="98.25" x2="625.5" y2="114.19" stroke="#00f000" stroke-width="1"/>
<rect x="623.5" y="105.5" width="4" height="2" fill="#ffffff" stroke="#30ff30" stroke-width="1"/>
<line x1="632.5" y1="97.88" x2="632.5" y2="113.25" stroke="#00f000" stroke-width="1"/>
<line x1="630" y1="106.5" x2="635" y2="106.5" stroke="#00f000" stroke-width="1"/>
<line x1="639.5" y1="107.25" x2="639.5" y2="121.69" stroke="#00f000" stroke-width="1"/>
<rect x="637.5" y="107.5" width="4" height="14" fill="#ffffff" stroke="#30ff30" stroke-width="1"/>
<line x1="646.5" y1="117" x2="646.5" y2="140.44" stroke="#00f000" stroke-width="1"/>
<rect x="644.5" y="121.5" width="4" height="2" fill="#ffffff" stroke="#30ff30" stroke-width="1"/>
<line x1="653.5" y1="119.81" x2="653.5" y2="130.5" stroke="#00f000" stroke-width="1"/>
<rect x="651.5" y="125.5" width="4" height="2" fill="#ffffff" stroke="#30ff30" stroke-width="1"/>
<line x1="660.5" y1="117.94" x2="660.5" y2="118.5" stroke="#00f000" stroke-width="1"/>
<line x1="660.5" y1="128.5" x2="660.5" y2="129.19" stroke="#00f000" stroke-width="1"/>
<rect x="658.5" y="118.5" width="4" height="10" fill="none" stroke="#00f000" stroke-width="1"/>
<line x1="519.5" y1="239.38" x2="519.5" y2="243.5" stroke="#e09858" stroke-width="1" stroke-dasharray="2.4 2.4"/>
<line x1="526.5" y1="239.2" x2="526.5" y2="243.5" stroke="#e09858" stroke-width="1" stroke-dasharray="2.4 2.4"/>
<line x1="533.5" y1="239" x2="533.5" y2="243.5" stroke="#e09858" stroke-width="1" stroke-dasharray="2.4 2.4"/>
<line x1="540.5" y1="235.98" x2="540.5" y2="243.5" stroke="#e09858" stroke-width="1" stroke-dasharray="2.4 2.4"/>
<line x1="547.5" y1="233.73" x2="547.5" y2="243.5" stroke="#e09858" stroke-width="1" stroke-dasharray="2.4 2.4"/>
<line x1="554.5" y1="231.49" x2="554.5" y2="243.5" stroke="#e09858" stroke-width="1" stroke-dasharray="2.4 2.4"/>
<line x1="561.5" y1="231.03" x2="561.5" y2="243.5" stroke="#e09858" stroke-width="1" stroke-dasharray="2.4 2.4"/>
<line x1="569.5" y1="230.56" x2="569.5" y2="243.5" stroke="#e09858" stroke-width="1" stroke-dasharray="2.4 2.4"/>
<line x1="576.5" y1="230.09" x2="576.5" y2="243.5" stroke="#e09858" stroke-width="1" stroke-dasharray="2.4 2.4"/>
<line x1="583.5" y1="229.63" x2="583.5" y2="242.94" stroke="#e09858" stroke-width="1" stroke-dasharray="2.4 2.4"/>
<line x1="590.5" y1="228.55" x2="590.5" y2="240.31" stroke="#e09858" stroke-width="1" stroke-dasharray="2.4 2.4"/>
<line x1="597.5" y1="227.47" x2="597.5" y2="240.31" stroke="#e09858" stroke-width="1" stroke-dasharray="2.4 2.4"/>
<line x1="604.5" y1="226.39" x2="604.5" y2="240.31" stroke="#e09858" stroke-width="1" stroke-dasharray="2.4 2.4"/>
<line x1="611.5" y1="225.3" x2="611.5" y2="240.31" stroke="#e09858" stroke-width="1" stroke-dasharray="2.4 2.4"/>
<line x1="618.5" y1="223.44" x2="618.5" y2="240.31" stroke="#e09858" stroke-width="1" stroke-dasharray="2.4 2.4"/>
<line x1="625.5" y1="212.35" x2="625.5" y2="240.24" stroke="#e09858" stroke-width="1" stroke-dasharray="2.4 2.4"/>
<line x1="632.5" y1="194.37" x2="632.5" y2="225.11" stroke="#e09858" stroke-width="1" stroke-dasharray="2.4 2.4"/>
<line x1="639.5" y1="188.8" x2="639.5" y2="218.94" stroke="#e09858" stroke-width="1" stroke-dasharray="2.4 2.4"/>
<line x1="646.5" y1="182.75" x2="646.5" y2="214.44" stroke="#e09858" stroke-width="1" stroke-dasharray="2.4 2.4"/>
<line x1="653.5" y1="182.75" x2="653.5" y2="214.44" stroke="#e09858" stroke-width="1" stroke-dasharray="2.4 2.4"/>
<line x1="660.5" y1="182.75" x2="660.5" y2="214.44" stroke="#e09858" stroke-width="1" stroke-dasharray="2.4 2.4"/>
<polyline points="520.5,243.5 581.62,243.5 590.06,240.31 618.38,240.31 624.75,242.19 629.44,228.12 636,221.56 643.5,215.94 646.5,214.44 660.56,214.44" fill="none" stroke="#c8c0cc" stroke-width="1" stroke-dasharray="2.5 2.5" />
<polyline points="520.5,239.38 533.81,239 540.75,236 554.81,231.5 583.12,229.62 611.25,225.31 618.38,223.44 625.5,212.19 632.44,194.38 639.56,188.75 646.5,182.75 660.56,182.75" fill="none" stroke="#e09858" stroke-width="1" stroke-dasharray="2.5 2.5" />
<polyline points="520.5,176.44 540.75,176.44 547.88,173.25 554.81,167.62 569.06,160.5 583.12,159.75 604.12,158.62 611.25,153.56 618.38,149.25 625.5,137.62 632.44,126.38 639.56,125.44 660.56,124.5" fill="none" stroke="#0000d0" stroke-width="1.3" />
<polyline points="520.5,140.44 533.81,140.44 540.38,138.56 547.88,127.31 554.81,121.69 561.94,121.12 569.06,117.94 597.19,117 604.12,109.5 611.25,102.38 632.44,102.38 639.56,105.75 646.5,111.94 660.56,111.94" fill="none" stroke="#c80000" stroke-width="1.2" />
<polyline points="520.5,116.06 526.69,113.25 533.81,108 544.12,107.25 550.69,106.31 554.81,108.56 561.94,117.94 569.06,117.94 576,133.88 583.12,148.88 590.06,161.06 597.19,151.69 604.12,145.12 611.25,138.56 618.38,144.75 625.5,140.44 639.56,132.94 646.5,140.44 653.62,125.44 660.56,118.88" fill="none" stroke="#00a800" stroke-width="1.2" />
<line x1="520.5" y1="412.8" x2="661.3" y2="412.8" stroke="#6a7787" stroke-width="1.4" stroke-dasharray="2.6 2.5"/>
<rect x="518.3" y="379.5" width="2.7" height="33.3" fill="#cecece"/>
<rect x="525.35" y="378.6" width="2.7" height="34.2" fill="#cecece"/>
<rect x="532.4" y="379.5" width="2.7" height="33.3" fill="#cecece"/>
<rect x="539.45" y="378.6" width="2.7" height="34.2" fill="#cecece"/>
<rect x="546.5" y="378.6" width="2.7" height="34.2" fill="#cecece"/>
<rect x="553.55" y="378" width="2.7" height="34.8" fill="#cecece"/>
<rect x="560.6" y="377.1" width="2.7" height="35.7" fill="#cecece"/>
<rect x="567.65" y="376" width="2.7" height="36.8" fill="#cecece"/>
<rect x="574.7" y="377.3" width="2.7" height="35.5" fill="#cecece"/>
<rect x="581.75" y="376.8" width="2.7" height="36" fill="#cecece"/>
<rect x="588.8" y="377" width="2.7" height="35.8" fill="#cecece"/>
<rect x="595.85" y="378.6" width="2.7" height="34.2" fill="#cecece"/>
<rect x="602.9" y="379.3" width="2.7" height="33.5" fill="#cecece"/>
<rect x="609.95" y="381.5" width="2.7" height="31.3" fill="#cecece"/>
<rect x="617" y="383.7" width="2.7" height="29.1" fill="#cecece"/>
<rect x="624.05" y="385.4" width="2.7" height="27.4" fill="#cecece"/>
<rect x="631.1" y="387.4" width="2.7" height="25.4" fill="#cecece"/>
<rect x="638.15" y="391" width="2.7" height="21.8" fill="#cecece"/>
<rect x="645.2" y="394.4" width="2.7" height="18.4" fill="#cecece"/>
<rect x="652.25" y="396.9" width="2.7" height="15.9" fill="#cecece"/>
<rect x="659.3" y="398.8" width="2.7" height="14" fill="#cecece"/>
<polyline points="520.6,379.5 539.5,378 560,377.5 570,377.3 574,378.6 582.7,378.5 589.5,377 611,377.3 620.8,379 630.5,380.7 639.5,382.2 648.1,384.6 655,386.6 660.5,389.3" fill="none" stroke="#d00000" stroke-width="1.1" />
<line x1="520.5" y1="367.7" x2="661.3" y2="367.7" stroke="#b4b4b4" stroke-width="3"/>
<line x1="639.5" y1="78" x2="639.5" y2="491.5" stroke="#e00000" stroke-width="1.2"/>
</g>
<line x1="661.5" y1="78" x2="661.5" y2="491.5" stroke="#b4b4b4" stroke-width="1.5"/>
<line x1="520.5" y1="491.5" x2="661.3" y2="491.5" stroke="#e8e8e8" stroke-width="1"/>
<line x1="661.3" y1="102.5" x2="664" y2="102.5" stroke="#e8e8e8" stroke-width="1"/>
<text transform="translate(667,105.13) scale(0.93,1)" fill="#f0f0f0" font-family="Liberation Sans, sans-serif" font-size="8.7">4834.05</text>
<line x1="661.3" y1="131.5" x2="664" y2="131.5" stroke="#e8e8e8" stroke-width="1"/>
<text transform="translate(667,134.3) scale(0.93,1)" fill="#f0f0f0" font-family="Liberation Sans, sans-serif" font-size="8.7">4825.30</text>
<line x1="661.3" y1="160.5" x2="664" y2="160.5" stroke="#e8e8e8" stroke-width="1"/>
<text transform="translate(667,163.47) scale(0.93,1)" fill="#f0f0f0" font-family="Liberation Sans, sans-serif" font-size="8.7">4816.30</text>
<line x1="661.3" y1="189.5" x2="664" y2="189.5" stroke="#e8e8e8" stroke-width="1"/>
<text transform="translate(667,192.64) scale(0.93,1)" fill="#f0f0f0" font-family="Liberation Sans, sans-serif" font-size="8.7">4807.30</text>
<line x1="661.3" y1="218.5" x2="664" y2="218.5" stroke="#e8e8e8" stroke-width="1"/>
<text transform="translate(667,221.81) scale(0.93,1)" fill="#f0f0f0" font-family="Liberation Sans, sans-serif" font-size="8.7">4798.55</text>
<line x1="661.3" y1="247.5" x2="664" y2="247.5" stroke="#e8e8e8" stroke-width="1"/>
<text transform="translate(667,250.98) scale(0.93,1)" fill="#f0f0f0" font-family="Liberation Sans, sans-serif" font-size="8.7">4789.55</text>
<line x1="661.3" y1="277.5" x2="664" y2="277.5" stroke="#e8e8e8" stroke-width="1"/>
<text transform="translate(667,280.15) scale(0.93,1)" fill="#f0f0f0" font-family="Liberation Sans, sans-serif" font-size="8.7">4780.80</text>
<line x1="661.3" y1="306.5" x2="664" y2="306.5" stroke="#e8e8e8" stroke-width="1"/>
<text transform="translate(667,309.32) scale(0.93,1)" fill="#f0f0f0" font-family="Liberation Sans, sans-serif" font-size="8.7">4771.80</text>
<line x1="661.3" y1="335.5" x2="664" y2="335.5" stroke="#e8e8e8" stroke-width="1"/>
<text transform="translate(667,338.49) scale(0.93,1)" fill="#f0f0f0" font-family="Liberation Sans, sans-serif" font-size="8.7">4762.80</text>
<line x1="661.3" y1="364.5" x2="664" y2="364.5" stroke="#e8e8e8" stroke-width="1"/>
<text transform="translate(667,367.66) scale(0.93,1)" fill="#f0f0f0" font-family="Liberation Sans, sans-serif" font-size="8.7">4754.05</text>
<text transform="translate(666.5,377.8) scale(0.93,1)" fill="#f0f0f0" font-family="Liberation Sans, sans-serif" font-size="8.7">9.272</text>
<text transform="translate(666.5,415.7) scale(0.93,1)" fill="#f0f0f0" font-family="Liberation Sans, sans-serif" font-size="8.7">0.00</text>
<text transform="translate(666.5,489.2) scale(0.93,1)" fill="#f0f0f0" font-family="Liberation Sans, sans-serif" font-size="8.7">-17.02</text>
<line x1="526.5" y1="491.5" x2="526.5" y2="494.5" stroke="#e8e8e8" stroke-width="1"/>
<line x1="583.5" y1="491.5" x2="583.5" y2="494.5" stroke="#e8e8e8" stroke-width="1"/>
<text transform="translate(525.5,503.3) scale(0.93,1)" fill="#f0f0f0" font-family="Liberation Sans, sans-serif" font-size="8.7">22 Jan 08:45</text>
<text transform="translate(582,503.3) scale(0.93,1)" fill="#f0f0f0" font-family="Liberation Sans, sans-serif" font-size="8.7">22 Jan 09:25</text>
<text transform="translate(675.2,503.3) scale(0.93,1)" fill="#f0f0f0" font-family="Liberation Sans, sans-serif" font-size="8.7">:05</text>
<rect x="603.9" y="495.2" width="70.7" height="10.1" fill="#f80000"/>
<line x1="639.5" y1="491.5" x2="639.5" y2="495" stroke="#e8e8e8" stroke-width="1"/>
<text transform="translate(607.3,503.3) scale(0.93,1)" fill="#380000" font-family="Liberation Sans, sans-serif" font-size="8.7">2026.01.22 10:09</text>
</g></g>
<g clip-path="url(#cM15)"><g>
<rect x="703" y="67" width="188" height="453" fill="#000"/>
<g clip-path="url(#cM15c)">
<line x1="725.25" y1="78" x2="725.25" y2="510" stroke="#6a7787" stroke-width="1.4" stroke-dasharray="2.6 2.5"/>
<line x1="755.95" y1="78" x2="755.95" y2="510" stroke="#6a7787" stroke-width="1.4" stroke-dasharray="2.6 2.5"/>
<line x1="786.65" y1="78" x2="786.65" y2="510" stroke="#6a7787" stroke-width="1.4" stroke-dasharray="2.6 2.5"/>
<line x1="817.35" y1="78" x2="817.35" y2="510" stroke="#6a7787" stroke-width="1.4" stroke-dasharray="2.6 2.5"/>
<line x1="713" y1="80" x2="841.5" y2="80" stroke="#6a7787" stroke-width="1.4" stroke-dasharray="2.6 2.5"/>
<line x1="713" y1="111.85" x2="841.5" y2="111.85" stroke="#6a7787" stroke-width="1.4" stroke-dasharray="2.6 2.5"/>
<line x1="713" y1="143.7" x2="841.5" y2="143.7" stroke="#6a7787" stroke-width="1.4" stroke-dasharray="2.6 2.5"/>
<line x1="713" y1="175.55" x2="841.5" y2="175.55" stroke="#6a7787" stroke-width="1.4" stroke-dasharray="2.6 2.5"/>
<line x1="713" y1="207.4" x2="841.5" y2="207.4" stroke="#6a7787" stroke-width="1.4" stroke-dasharray="2.6 2.5"/>
<line x1="713" y1="239.25" x2="841.5" y2="239.25" stroke="#6a7787" stroke-width="1.4" stroke-dasharray="2.6 2.5"/>
<line x1="713" y1="271.1" x2="841.5" y2="271.1" stroke="#6a7787" stroke-width="1.4" stroke-dasharray="2.6 2.5"/>
<line x1="713" y1="302.95" x2="841.5" y2="302.95" stroke="#6a7787" stroke-width="1.4" stroke-dasharray="2.6 2.5"/>
<line x1="713" y1="334.8" x2="841.5" y2="334.8" stroke="#6a7787" stroke-width="1.4" stroke-dasharray="2.6 2.5"/>
<line x1="713" y1="366.65" x2="841.5" y2="366.65" stroke="#6a7787" stroke-width="1.4" stroke-dasharray="2.6 2.5"/>
<line x1="713" y1="398.5" x2="841.5" y2="398.5" stroke="#6a7787" stroke-width="1.4" stroke-dasharray="2.6 2.5"/>
<line x1="717.5" y1="283.44" x2="717.5" y2="294.69" stroke="#00f000" stroke-width="1"/>
<line x1="715" y1="289.5" x2="720" y2="289.5" stroke="#00f000" stroke-width="1"/>
<line x1="725.5" y1="284.38" x2="725.5" y2="286.5" stroke="#00f000" stroke-width="1"/>
<line x1="725.5" y1="290.5" x2="725.5" y2="292.81" stroke="#00f000" stroke-width="1"/>
<rect x="723.5" y="286.5" width="4" height="4" fill="none" stroke="#00f000" stroke-width="1"/>
<line x1="732.5" y1="277.81" x2="732.5" y2="279.5" stroke="#00f000" stroke-width="1"/>
<line x1="732.5" y1="286.5" x2="732.5" y2="293.75" stroke="#00f000" stroke-width="1"/>
<rect x="730.5" y="279.5" width="4" height="7" fill="none" stroke="#00f000" stroke-width="1"/>
<line x1="740.5" y1="279.12" x2="740.5" y2="290.94" stroke="#00f000" stroke-width="1"/>
<rect x="738.5" y="279.5" width="4" height="11" fill="#ffffff" stroke="#30ff30" stroke-width="1"/>
<line x1="748.5" y1="275.94" x2="748.5" y2="279.5" stroke="#00f000" stroke-width="1"/>
<line x1="748.5" y1="290.5" x2="748.5" y2="292.81" stroke="#00f000" stroke-width="1"/>
<rect x="746.5" y="279.5" width="4" height="11" fill="none" stroke="#00f000" stroke-width="1"/>
<line x1="755.5" y1="234.69" x2="755.5" y2="235.5" stroke="#00f000" stroke-width="1"/>
<line x1="755.5" y1="279.5" x2="755.5" y2="280.25" stroke="#00f000" stroke-width="1"/>
<rect x="753.5" y="235.5" width="4" height="44" fill="none" stroke="#00f000" stroke-width="1"/>
<line x1="763.5" y1="227.19" x2="763.5" y2="245" stroke="#00f000" stroke-width="1"/>
<rect x="761.5" y="235.5" width="4" height="7" fill="#ffffff" stroke="#30ff30" stroke-width="1"/>
<line x1="771.5" y1="218.75" x2="771.5" y2="227.5" stroke="#00f000" stroke-width="1"/>
<line x1="771.5" y1="242.5" x2="771.5" y2="244.06" stroke="#00f000" stroke-width="1"/>
<rect x="769.5" y="227.5" width="4" height="15" fill="none" stroke="#00f000" stroke-width="1"/>
<line x1="778.5" y1="220.62" x2="778.5" y2="230.94" stroke="#00f000" stroke-width="1"/>
<rect x="776.5" y="226.5" width="4" height="4" fill="#ffffff" stroke="#30ff30" stroke-width="1"/>
<line x1="786.5" y1="219.69" x2="786.5" y2="224.5" stroke="#00f000" stroke-width="1"/>
<line x1="786.5" y1="230.5" x2="786.5" y2="235.62" stroke="#00f000" stroke-width="1"/>
<rect x="784.5" y="224.5" width="4" height="6" fill="none" stroke="#00f000" stroke-width="1"/>
<line x1="794.5" y1="206.56" x2="794.5" y2="209.5" stroke="#00f000" stroke-width="1"/>
<line x1="794.5" y1="224.5" x2="794.5" y2="227.19" stroke="#00f000" stroke-width="1"/>
<rect x="792.5" y="209.5" width="4" height="15" fill="none" stroke="#00f000" stroke-width="1"/>
<line x1="802.5" y1="199.06" x2="802.5" y2="200.5" stroke="#00f000" stroke-width="1"/>
<line x1="802.5" y1="210.5" x2="802.5" y2="216.88" stroke="#00f000" stroke-width="1"/>
<rect x="800.5" y="200.5" width="4" height="10" fill="none" stroke="#00f000" stroke-width="1"/>
<line x1="809.5" y1="198.12" x2="809.5" y2="211.25" stroke="#00f000" stroke-width="1"/>
<rect x="807.5" y="202.5" width="4" height="7" fill="#ffffff" stroke="#30ff30" stroke-width="1"/>
<line x1="817.5" y1="206.56" x2="817.5" y2="218.75" stroke="#00f000" stroke-width="1"/>
<rect x="815.5" y="208.5" width="4" height="2" fill="#ffffff" stroke="#30ff30" stroke-width="1"/>
<line x1="825.5" y1="210.88" x2="825.5" y2="222.5" stroke="#00f000" stroke-width="1"/>
<rect x="823.5" y="211.5" width="4" height="11" fill="#ffffff" stroke="#30ff30" stroke-width="1"/>
<line x1="832.5" y1="215.94" x2="832.5" y2="226.25" stroke="#00f000" stroke-width="1"/>
<rect x="830.5" y="221.5" width="4" height="3" fill="#ffffff" stroke="#30ff30" stroke-width="1"/>
<line x1="840.5" y1="219.69" x2="840.5" y2="224.5" stroke="#00f000" stroke-width="1"/>
<line x1="840.5" y1="231.5" x2="840.5" y2="233.75" stroke="#00f000" stroke-width="1"/>
<rect x="838.5" y="224.5" width="4" height="7" fill="none" stroke="#00f000" stroke-width="1"/>
<line x1="717.5" y1="242.19" x2="717.5" y2="262.43" stroke="#c8c0cc" stroke-width="1" stroke-dasharray="2.4 2.4"/>
<line x1="725.5" y1="242.19" x2="725.5" y2="263.38" stroke="#c8c0cc" stroke-width="1" stroke-dasharray="2.4 2.4"/>
<line x1="732.5" y1="242.19" x2="732.5" y2="272.18" stroke="#c8c0cc" stroke-width="1" stroke-dasharray="2.4 2.4"/>
<line x1="740.5" y1="242.19" x2="740.5" y2="275.93" stroke="#c8c0cc" stroke-width="1" stroke-dasharray="2.4 2.4"/>
<line x1="748.5" y1="242.19" x2="748.5" y2="268.48" stroke="#c8c0cc" stroke-width="1" stroke-dasharray="2.4 2.4"/>
<line x1="755.5" y1="242.19" x2="755.5" y2="262.78" stroke="#c8c0cc" stroke-width="1" stroke-dasharray="2.4 2.4"/>
<line x1="763.5" y1="242.19" x2="763.5" y2="261.05" stroke="#c8c0cc" stroke-width="1" stroke-dasharray="2.4 2.4"/>
<line x1="771.5" y1="242.19" x2="771.5" y2="266.27" stroke="#c8c0cc" stroke-width="1" stroke-dasharray="2.4 2.4"/>
<line x1="778.5" y1="242.19" x2="778.5" y2="266.94" stroke="#c8c0cc" stroke-width="1" stroke-dasharray="2.4 2.4"/>
<line x1="786.5" y1="242.19" x2="786.5" y2="266.94" stroke="#c8c0cc" stroke-width="1" stroke-dasharray="2.4 2.4"/>
<line x1="794.5" y1="242.19" x2="794.5" y2="266.94" stroke="#c8c0cc" stroke-width="1" stroke-dasharray="2.4 2.4"/>
<line x1="802.5" y1="242.19" x2="802.5" y2="267.05" stroke="#c8c0cc" stroke-width="1" stroke-dasharray="2.4 2.4"/>
<line x1="809.5" y1="242.19" x2="809.5" y2="270.39" stroke="#c8c0cc" stroke-width="1" stroke-dasharray="2.4 2.4"/>
<line x1="817.5" y1="242.19" x2="817.5" y2="280.65" stroke="#c8c0cc" stroke-width="1" stroke-dasharray="2.4 2.4"/>
<line x1="825.5" y1="242.19" x2="825.5" y2="284.94" stroke="#c8c0cc" stroke-width="1" stroke-dasharray="2.4 2.4"/>
<line x1="832.5" y1="242.19" x2="832.5" y2="284.94" stroke="#c8c0cc" stroke-width="1" stroke-dasharray="2.4 2.4"/>
<line x1="840.5" y1="242.19" x2="840.5" y2="284.94" stroke="#c8c0cc" stroke-width="1" stroke-dasharray="2.4 2.4"/>
<polyline points="713.06,261.88 725.25,263.38 732.94,272.19 740.62,275.94 743.62,274.06 748.31,268.44 755.81,262.81 763.5,260.94 768,264.69 772.69,266.94 801.75,266.94 809.62,270.31 817.31,280.62 824.25,284.94 840.38,284.94" fill="none" stroke="#e09858" stroke-width="1" stroke-dasharray="2.5 2.5" />
<polyline points="713.06,242.19 840.38,242.19" fill="none" stroke="#e0dce4" stroke-width="1" stroke-dasharray="2.5 2.5" />
<polyline points="713.06,267.88 729.56,267.88 734.25,270.31 740.62,274.62 745.5,286.25 748.31,293.75 755.81,288.12 763.5,282.5 771.19,278.38 785.81,278.38 794.25,273.5 805.5,267.5 809.62,266.94 840.38,266.94" fill="none" stroke="#0000d0" stroke-width="1.3" />
<polyline points="713.06,307.25 717.38,306.88 725.25,299 732.94,295.62 740.62,293.38 745.5,290.94 752.06,276.88 757.69,267.5 763.5,260.94 771.19,256.62 785.81,256.25 794.25,250.62 801.94,245.94 809.62,244.06 817.31,239 822.38,230 825,223.44 832.69,220.25 840.38,217.81" fill="none" stroke="#c80000" stroke-width="1.2" />
<polyline points="713.06,221 717.38,224.75 725.25,219.69 732.94,215.38 738.94,214.62 748.31,228.5 755.81,213.5 762.38,215.94 768,228.12 771.19,240.88 778.88,223.44 785.81,220.25 790.5,237.5 794.25,251.56 801.94,233.75 809.62,228.12 817.31,218.38 825.56,185 833.25,206.56 840.38,198.12" fill="none" stroke="#00a800" stroke-width="1.2" />
<line x1="713" y1="483" x2="841.5" y2="483" stroke="#6a7787" stroke-width="1.4" stroke-dasharray="2.6 2.5"/>
<rect x="716.23" y="483" width="2.7" height="14.5" fill="#cecece"/>
<rect x="723.9" y="483" width="2.7" height="13" fill="#cecece"/>
<rect x="731.58" y="483" width="2.7" height="10" fill="#cecece"/>
<rect x="739.25" y="483" width="2.7" height="10" fill="#cecece"/>
<rect x="746.93" y="483" width="2.7" height="8" fill="#cecece"/>
<rect x="754.61" y="482.4" width="2.7" height="0.6" fill="#cecece"/>
<rect x="762.28" y="480.5" width="2.7" height="2.5" fill="#cecece"/>
<rect x="769.96" y="473" width="2.7" height="10" fill="#cecece"/>
<rect x="777.63" y="470" width="2.7" height="13" fill="#cecece"/>
<rect x="785.31" y="466.5" width="2.7" height="16.5" fill="#cecece"/>
<rect x="792.98" y="462.5" width="2.7" height="20.5" fill="#cecece"/>
<rect x="800.65" y="459" width="2.7" height="24" fill="#cecece"/>
<rect x="808.33" y="457" width="2.7" height="26" fill="#cecece"/>
<rect x="816" y="456" width="2.7" height="27" fill="#cecece"/>
<rect x="823.68" y="456" width="2.7" height="27" fill="#cecece"/>
<rect x="831.36" y="458" width="2.7" height="25" fill="#cecece"/>
<rect x="839.03" y="459.5" width="2.7" height="23.5" fill="#cecece"/>
<rect x="846.71" y="461" width="2.7" height="22" fill="#cecece"/>
<polyline points="713,505.5 725,503 745,498 765,492 785,484 800,476 815,468 825,465 841.5,459.5" fill="none" stroke="#d00000" stroke-width="1.1" />
<line x1="713" y1="401.5" x2="841.5" y2="401.5" stroke="#d8d8d8" stroke-width="1"/>
<line x1="713" y1="403.5" x2="841.5" y2="403.5" stroke="#d8d8d8" stroke-width="1"/>
<line x1="825.5" y1="78" x2="825.5" y2="510" stroke="#e00000" stroke-width="1.2"/>
</g>
<line x1="841.7" y1="78" x2="841.7" y2="510" stroke="#b4b4b4" stroke-width="1.5"/>
<line x1="841.6" y1="80.5" x2="844.3" y2="80.5" stroke="#e8e8e8" stroke-width="1"/>
<text transform="translate(847,83.42) scale(0.93,1)" fill="#f0f0f0" font-family="Liberation Sans, sans-serif" font-size="9.5">4894.10</text>
<line x1="841.6" y1="111.5" x2="844.3" y2="111.5" stroke="#e8e8e8" stroke-width="1"/>
<text transform="translate(847,115.27) scale(0.93,1)" fill="#f0f0f0" font-family="Liberation Sans, sans-serif" font-size="9.5">4879.30</text>
<line x1="841.6" y1="143.5" x2="844.3" y2="143.5" stroke="#e8e8e8" stroke-width="1"/>
<text transform="translate(847,147.12) scale(0.93,1)" fill="#f0f0f0" font-family="Liberation Sans, sans-serif" font-size="9.5">4864.10</text>
<line x1="841.6" y1="175.5" x2="844.3" y2="175.5" stroke="#e8e8e8" stroke-width="1"/>
<text transform="translate(847,178.97) scale(0.93,1)" fill="#f0f0f0" font-family="Liberation Sans, sans-serif" font-size="9.5">4849.30</text>
<line x1="841.6" y1="207.5" x2="844.3" y2="207.5" stroke="#e8e8e8" stroke-width="1"/>
<text transform="translate(847,210.82) scale(0.93,1)" fill="#f0f0f0" font-family="Liberation Sans, sans-serif" font-size="9.5">4834.50</text>
<line x1="841.6" y1="239.5" x2="844.3" y2="239.5" stroke="#e8e8e8" stroke-width="1"/>
<text transform="translate(847,242.67) scale(0.93,1)" fill="#f0f0f0" font-family="Liberation Sans, sans-serif" font-size="9.5">4819.30</text>
<line x1="841.6" y1="271.5" x2="844.3" y2="271.5" stroke="#e8e8e8" stroke-width="1"/>
<text transform="translate(847,274.52) scale(0.93,1)" fill="#f0f0f0" font-family="Liberation Sans, sans-serif" font-size="9.5">4804.50</text>
<line x1="841.6" y1="302.5" x2="844.3" y2="302.5" stroke="#e8e8e8" stroke-width="1"/>
<text transform="translate(847,306.37) scale(0.93,1)" fill="#f0f0f0" font-family="Liberation Sans, sans-serif" font-size="9.5">4789.70</text>
<line x1="841.6" y1="334.5" x2="844.3" y2="334.5" stroke="#e8e8e8" stroke-width="1"/>
<text transform="translate(847,338.22) scale(0.93,1)" fill="#f0f0f0" font-family="Liberation Sans, sans-serif" font-size="9.5">4774.50</text>
<line x1="841.6" y1="366.5" x2="844.3" y2="366.5" stroke="#e8e8e8" stroke-width="1"/>
<text transform="translate(847,370.07) scale(0.93,1)" fill="#f0f0f0" font-family="Liberation Sans, sans-serif" font-size="9.5">4759.70</text>
<line x1="841.6" y1="398.5" x2="844.3" y2="398.5" stroke="#e8e8e8" stroke-width="1"/>
<text transform="translate(847,401.92) scale(0.93,1)" fill="#f0f0f0" font-family="Liberation Sans, sans-serif" font-size="9.5">4744.90</text>
<text transform="translate(845.5,412.5) scale(0.93,1)" fill="#f0f0f0" font-family="Liberation Sans, sans-serif" font-size="9.5">25.257</text>
<text transform="translate(845.5,485.8) scale(0.93,1)" fill="#f0f0f0" font-family="Liberation Sans, sans-serif" font-size="9.5">0.00</text>
</g></g>
<text x="72.2" y="334.3" fill="#fff" font-family="Liberation Sans, Noto Sans CJK JP, sans-serif" font-weight="350" font-size="23.95">一目の雲に抵抗線を確認</text>
<text x="187.8" y="421.2" fill="#fff" font-family="Liberation Sans, Noto Sans CJK JP, sans-serif" font-weight="350" font-size="24.15">デッドクロスが起きそう</text>
<text x="522.6" y="434.2" fill="#fff" font-family="Liberation Sans, Noto Sans CJK JP, sans-serif" font-weight="350" font-size="19.6">下がっている</text>
<g fill="none" stroke="#e8141c" stroke-width="3" stroke-linecap="round" stroke-linejoin="round">
<path d="M407.5,434.5 C420,441 438,455 452,466"/>
<path d="M450,447.5 C450.8,455 450.8,462 451,467.5"/>
<path d="M433.5,463.8 C440,464.5 446,464.3 452,464.6"/>
<path d="M451,465 C458,462.2 470.5,462.6 474,467 C476,472 475.2,480 471,484 C466,486.6 455,485.6 450.5,482.8 C446.4,479 446.6,469.5 451,465 C453,463.6 456,463 459,462.8"/>
<path d="M465,485.3 C468,485.8 471.5,485 473.5,483.5"/>
</g>
<g fill="none" stroke="#f0f028" stroke-width="3.1" stroke-linecap="round" stroke-linejoin="round">
<path d="M591,388.6 C592.38,388.52 596.3,387.95 599.3,388.1 C602.3,388.25 605.75,388.62 609,389.5 C612.25,390.38 615.53,391.9 618.8,393.4 C622.07,394.9 626.52,397.3 628.6,398.5 C630.68,399.7 630.85,400.25 631.3,400.6"/>
<path d="M630.5,390.6 L631,401.3"/>
<path d="M616.6,401.7 L631.8,401.4"/>
</g>
<text transform="translate(245,550.8) scale(1,1.09)" fill="#1a1a1a" font-family="Liberation Sans, sans-serif" font-size="28.7" text-anchor="middle">M1</text>
<text transform="translate(610.5,550.8) scale(1,1.09)" fill="#1a1a1a" font-family="Liberation Sans, sans-serif" font-size="28.7" text-anchor="middle">M5</text>
<text transform="translate(787,550.8) scale(1,1.09)" fill="#1a1a1a" font-family="Liberation Sans, sans-serif" font-size="28.7" text-anchor="middle">M15</text>
</svg></body></html>
